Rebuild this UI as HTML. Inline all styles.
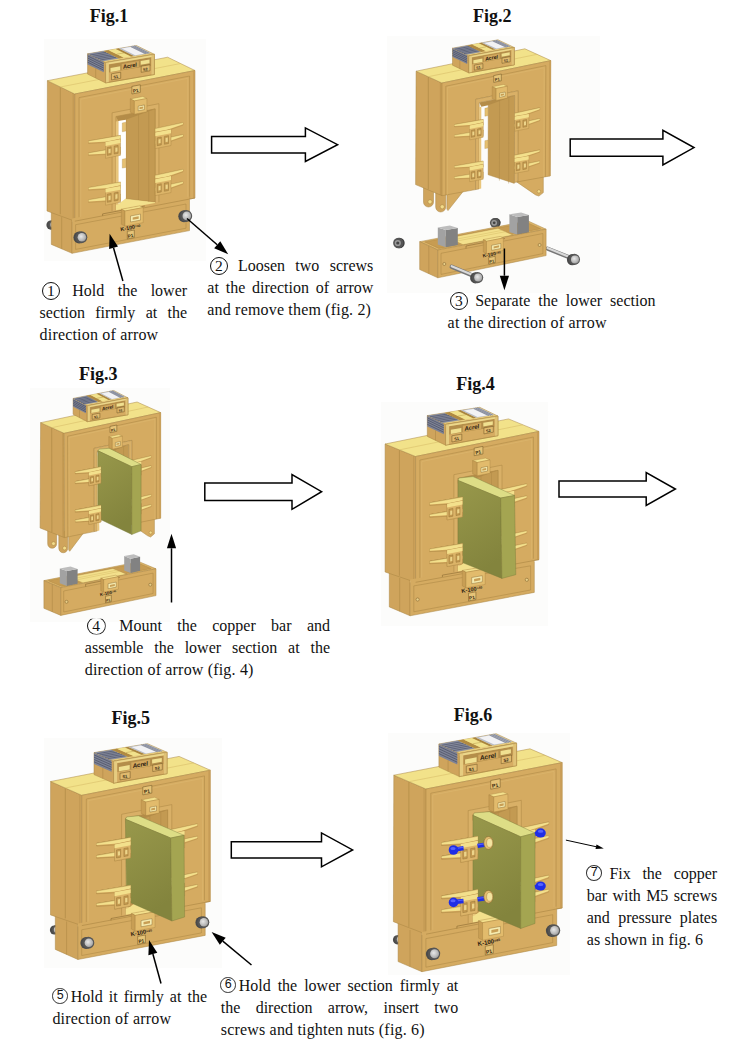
<!DOCTYPE html>
<html><head><meta charset="utf-8"><title>Installation steps</title>
<style>
html,body{margin:0;padding:0;background:#fff;}
body{width:756px;height:1064px;position:relative;overflow:hidden;font-family:"Liberation Serif","DejaVu Serif",serif;color:#111;}
.t{position:absolute;white-space:nowrap;line-height:22px;}
.t[style*="justify"]{white-space:normal;}
.c{display:inline-block;box-sizing:border-box;border:1.2px solid #111;border-radius:50%;text-align:center;text-align-last:center;text-indent:0;white-space:nowrap;overflow:hidden;letter-spacing:0;}
svg{position:absolute;left:0;top:0;}
.ba{fill:#fff;stroke:#000;stroke-width:1.5;stroke-linejoin:miter;}
</style></head><body>
<svg width="756" height="1064" viewBox="0 0 756 1064">
<g fill="#fcfcfb"><rect x="44" y="39" width="162" height="222"/><rect x="387" y="36" width="213" height="257"/><rect x="30" y="388" width="140" height="234"/><rect x="381" y="402" width="167" height="224"/><rect x="44" y="738" width="178" height="230"/><rect x="388" y="733" width="182" height="242"/></g>
<defs><radialGradient id="gs" cx="0.4" cy="0.4" r="0.7"><stop offset="0" stop-color="#e8e8e8"/><stop offset="0.7" stop-color="#b4b4b4"/><stop offset="1" stop-color="#8a8a8a"/></radialGradient><linearGradient id="gb" x1="0" y1="0" x2="0.3" y2="1"><stop offset="0" stop-color="#98984b"/><stop offset="1" stop-color="#83843d"/></linearGradient></defs>
<ellipse cx="50.8" cy="225.1" rx="4.4" ry="4.6" fill="#4a4a4a"/>
<circle cx="53.0" cy="224.8" r="4.6" fill="#555"/>
<circle cx="53.6" cy="224.8" r="3.3" fill="url(#gs)"/>
<polygon points="51.3,202.6 72.1,211.5 72.1,253.3 51.3,244.4" fill="#cfa45c" stroke="#a98442" stroke-width="0.5" stroke-linejoin="round"/>
<polyline points="61.7,217.1 61.7,248.9" fill="none" stroke="#a98442" stroke-width="0.5"/>
<polygon points="47.4,80.7 74.8,94.0 74.8,221.2 47.0,211.0" fill="#cfa45c" stroke="#a98442" stroke-width="0.5" stroke-linejoin="round"/>
<polyline points="60.3,87.0 60.3,214.2" fill="none" stroke="#a98442" stroke-width="0.6"/>
<polyline points="73.2,93.2 73.2,220.4" fill="none" stroke="#a98442" stroke-width="0.4"/>
<polygon points="47.4,80.7 74.8,94.0 195.0,70.5 167.6,57.2" fill="#f2e28a" stroke="#a98442" stroke-width="0.5" stroke-linejoin="round"/>
<polyline points="60.3,87.0 180.5,63.5" fill="none" stroke="#d9be6a" stroke-width="0.6"/>
<polygon points="74.8,94.0 195.0,70.5 195.0,198.0 74.8,221.2" fill="#d5ab61" stroke="#a98442" stroke-width="0.5" stroke-linejoin="round"/>
<polygon points="193.2,70.9 195.0,70.5 195.0,198.0 193.2,198.3" fill="#c79c55"/>
<polyline points="79.0,220.4 79.0,97.6 189.6,76.0 189.6,199.0" fill="none" stroke="#a98442" stroke-width="0.5"/>
<polyline points="80.8,220.0 80.8,99.2 187.8,78.3 187.8,199.4" fill="none" stroke="#dfba72" stroke-width="0.5"/>
<polygon points="112.1,112.8 158.9,103.7 158.9,205.0 155.1,205.7 155.1,108.9 115.9,116.5 115.9,213.3 112.1,214.0" fill="#d9b067" stroke="#a98442" stroke-width="0.5" stroke-linejoin="round"/>
<polygon points="115.9,205.0 125.9,198.6 155.1,201.9 155.1,205.7 115.9,213.3" fill="#f3e08c"/>
<polygon points="125.9,116.5 155.1,108.9 155.1,201.9 125.9,198.6" fill="#c39a52" stroke="#a98442" stroke-width="0.4" stroke-linejoin="round"/>
<polygon points="115.9,116.5 155.1,108.9 125.9,119.7 118.3,121.1" fill="#b48c48"/>
<polygon points="118.3,121.1 125.9,119.7 125.9,198.6 118.3,203.9" fill="#ffffff"/>
<polyline points="138.5,114.7 138.5,200.0" fill="none" stroke="#a98442" stroke-width="0.4"/>
<polyline points="148.7,111.4 148.7,201.8" fill="none" stroke="#a98442" stroke-width="0.4"/>
<polygon points="115.9,121.6 118.3,121.1 118.3,204.5 115.9,205.0" fill="#e9c67c"/>
<polygon points="122.3,122.9 125.9,122.2 125.9,131.1 122.3,131.8" fill="#e6c070" stroke="#a98442" stroke-width="0.3" stroke-linejoin="round"/>
<polygon points="122.3,159.2 125.9,158.5 125.9,167.4 122.3,168.1" fill="#e6c070" stroke="#a98442" stroke-width="0.3" stroke-linejoin="round"/>
<polygon points="88.6,140.9 120.5,135.4 120.5,141.7 88.6,143.5" fill="#d2a65c" stroke="#a98442" stroke-width="0.35" stroke-linejoin="round"/>
<polygon points="88.6,140.9 120.5,135.4 120.5,138.5 108.4,141.4 88.6,142.6" fill="#f3e08c"/>
<polyline points="88.6,140.9 120.5,135.4" fill="none" stroke="#a98442" stroke-width="0.35"/>
<polygon points="88.6,152.9 120.5,147.3 120.5,153.7 88.6,155.4" fill="#d2a65c" stroke="#a98442" stroke-width="0.35" stroke-linejoin="round"/>
<polygon points="88.6,152.9 120.5,147.3 120.5,150.5 108.4,153.4 88.6,154.5" fill="#f3e08c"/>
<polyline points="88.6,152.9 120.5,147.3" fill="none" stroke="#a98442" stroke-width="0.35"/>
<polygon points="105.5,142.1 120.5,139.2 120.5,155.3 105.5,158.3" fill="#dcb468" stroke="#a98442" stroke-width="0.4" stroke-linejoin="round"/>
<polygon points="105.5,142.1 120.5,139.2 120.5,143.0 105.5,145.9" fill="#f3e08c"/>
<polygon points="107.3,147.5 111.2,146.7 111.2,154.6 107.3,155.4" fill="#c49a50" stroke="#8a6a30" stroke-width="0.4" stroke-linejoin="round"/>
<polygon points="108.5,149.2 110.6,148.7 110.6,152.8 108.5,153.2" fill="#ecd48a"/>
<polygon points="114.2,146.1 118.1,145.4 118.1,153.3 114.2,154.0" fill="#c49a50" stroke="#8a6a30" stroke-width="0.4" stroke-linejoin="round"/>
<polygon points="115.4,147.8 117.5,147.4 117.5,151.5 115.4,151.9" fill="#ecd48a"/>
<polygon points="88.6,187.6 120.5,182.1 120.5,188.4 88.6,190.2" fill="#d2a65c" stroke="#a98442" stroke-width="0.35" stroke-linejoin="round"/>
<polygon points="88.6,187.6 120.5,182.1 120.5,185.3 108.4,188.1 88.6,189.3" fill="#f3e08c"/>
<polyline points="88.6,187.6 120.5,182.1" fill="none" stroke="#a98442" stroke-width="0.35"/>
<polygon points="88.6,199.8 120.5,194.3 120.5,200.7 88.6,202.4" fill="#d2a65c" stroke="#a98442" stroke-width="0.35" stroke-linejoin="round"/>
<polygon points="88.6,199.8 120.5,194.3 120.5,197.5 108.4,200.3 88.6,201.5" fill="#f3e08c"/>
<polyline points="88.6,199.8 120.5,194.3" fill="none" stroke="#a98442" stroke-width="0.35"/>
<polygon points="105.5,188.8 120.5,185.9 120.5,202.3 105.5,205.2" fill="#dcb468" stroke="#a98442" stroke-width="0.4" stroke-linejoin="round"/>
<polygon points="105.5,188.8 120.5,185.9 120.5,189.7 105.5,192.6" fill="#f3e08c"/>
<polygon points="107.3,194.2 111.2,193.4 111.2,201.6 107.3,202.3" fill="#c49a50" stroke="#8a6a30" stroke-width="0.4" stroke-linejoin="round"/>
<polygon points="108.5,195.9 110.6,195.5 110.6,199.8 108.5,200.2" fill="#ecd48a"/>
<polygon points="114.2,192.9 118.1,192.1 118.1,200.2 114.2,201.0" fill="#c49a50" stroke="#8a6a30" stroke-width="0.4" stroke-linejoin="round"/>
<polygon points="115.4,194.5 117.5,194.1 117.5,198.5 115.4,198.9" fill="#ecd48a"/>
<polygon points="183.0,122.6 155.3,128.6 155.3,134.9 183.0,125.1" fill="#d2a65c" stroke="#a98442" stroke-width="0.35" stroke-linejoin="round"/>
<polygon points="183.0,122.6 155.3,128.6 155.3,131.8 165.8,130.2 183.0,124.2" fill="#f3e08c"/>
<polyline points="183.0,122.6 155.3,128.6" fill="none" stroke="#a98442" stroke-width="0.35"/>
<polygon points="183.0,134.5 155.3,140.6 155.3,146.9 183.0,137.1" fill="#d2a65c" stroke="#a98442" stroke-width="0.35" stroke-linejoin="round"/>
<polygon points="183.0,134.5 155.3,140.6 155.3,143.7 165.8,142.2 183.0,136.2" fill="#f3e08c"/>
<polyline points="183.0,134.5 155.3,140.6" fill="none" stroke="#a98442" stroke-width="0.35"/>
<polygon points="155.3,132.4 171.0,129.4 171.0,145.5 155.3,148.6" fill="#dcb468" stroke="#a98442" stroke-width="0.4" stroke-linejoin="round"/>
<polygon points="155.3,132.4 171.0,129.4 171.0,133.2 155.3,136.2" fill="#f3e08c"/>
<polygon points="157.2,137.8 161.3,137.0 161.3,144.9 157.2,145.7" fill="#c49a50" stroke="#8a6a30" stroke-width="0.4" stroke-linejoin="round"/>
<polygon points="158.5,139.4 160.6,139.0 160.6,143.1 158.5,143.5" fill="#ecd48a"/>
<polygon points="164.4,136.4 168.5,135.6 168.5,143.5 164.4,144.3" fill="#c49a50" stroke="#8a6a30" stroke-width="0.4" stroke-linejoin="round"/>
<polygon points="165.6,138.0 167.8,137.6 167.8,141.7 165.6,142.1" fill="#ecd48a"/>
<polygon points="183.0,169.3 155.3,175.3 155.3,181.7 183.0,171.9" fill="#d2a65c" stroke="#a98442" stroke-width="0.35" stroke-linejoin="round"/>
<polygon points="183.0,169.3 155.3,175.3 155.3,178.5 165.8,177.0 183.0,171.0" fill="#f3e08c"/>
<polyline points="183.0,169.3 155.3,175.3" fill="none" stroke="#a98442" stroke-width="0.35"/>
<polygon points="183.0,181.6 155.3,187.6 155.3,193.9 183.0,184.1" fill="#d2a65c" stroke="#a98442" stroke-width="0.35" stroke-linejoin="round"/>
<polygon points="183.0,181.6 155.3,187.6 155.3,190.8 165.8,189.2 183.0,183.2" fill="#f3e08c"/>
<polyline points="183.0,181.6 155.3,187.6" fill="none" stroke="#a98442" stroke-width="0.35"/>
<polygon points="155.3,179.2 171.0,176.1 171.0,192.6 155.3,195.6" fill="#dcb468" stroke="#a98442" stroke-width="0.4" stroke-linejoin="round"/>
<polygon points="155.3,179.2 171.0,176.1 171.0,180.0 155.3,183.0" fill="#f3e08c"/>
<polygon points="157.2,184.5 161.3,183.7 161.3,191.9 157.2,192.7" fill="#c49a50" stroke="#8a6a30" stroke-width="0.4" stroke-linejoin="round"/>
<polygon points="158.5,186.2 160.6,185.8 160.6,190.1 158.5,190.5" fill="#ecd48a"/>
<polygon points="164.4,183.1 168.5,182.4 168.5,190.5 164.4,191.3" fill="#c49a50" stroke="#8a6a30" stroke-width="0.4" stroke-linejoin="round"/>
<polygon points="165.6,184.8 167.8,184.4 167.8,188.7 165.6,189.1" fill="#ecd48a"/>
<polygon points="130.3,98.9 142.8,96.5 146.9,98.5 134.4,100.9" fill="#f3e08c" stroke="#a98442" stroke-width="0.4" stroke-linejoin="round"/>
<polygon points="130.3,98.9 134.4,100.9 134.4,114.2 130.3,112.2" fill="#c89e54" stroke="#a98442" stroke-width="0.4" stroke-linejoin="round"/>
<polygon points="134.4,100.9 146.9,98.5 146.9,111.7 134.4,114.2" fill="#e2bb6c" stroke="#a98442" stroke-width="0.4" stroke-linejoin="round"/>
<polygon points="138.2,106.2 144.4,104.9 144.4,109.6 138.2,110.8" fill="#f6ecb0" stroke="#7a5c28" stroke-width="0.4" stroke-linejoin="round"/>
<polygon points="139.4,107.2 143.2,106.5 143.2,108.5 139.4,109.2" fill="#c89e54"/>
<polygon points="131.9,86.4 140.3,84.8 140.3,92.4 131.9,94.0" fill="#e6c478" stroke="#6a5020" stroke-width="0.5" stroke-linejoin="round"/>
<text x="136.1" y="92.3" font-family="Liberation Sans, sans-serif" font-size="4.6" font-weight="bold" font-style="normal" fill="#3a2c10" text-anchor="middle" transform="rotate(-11.1 136.1 92.3)">P1</text>
<polygon points="72.1,218.5 189.5,196.6 189.5,230.6 72.1,253.3" fill="#d5ab61"/>
<polyline points="72.1,221.5 72.1,253.3 189.5,230.6 189.5,199.6" fill="none" stroke="#a98442" stroke-width="0.5"/>
<polyline points="74.8,221.2 195.0,198.0" fill="none" stroke="#a98442" stroke-width="0.6"/>
<polyline points="75.6,224.7 186.0,204.0 186.0,228.2 75.6,249.4 75.6,224.7" fill="none" stroke="#a98442" stroke-width="0.5"/>
<polyline points="102.6,215.8 102.6,213.9 144.9,206.0" fill="none" stroke="#7a5c28" stroke-width="0.5"/>
<polygon points="121.4,209.2 139.6,205.8 143.2,207.6 125.0,211.0" fill="#f3e08c" stroke="#a98442" stroke-width="0.4" stroke-linejoin="round"/>
<polygon points="121.4,209.2 125.0,211.0 125.0,226.1 121.4,224.3" fill="#c89e54" stroke="#a98442" stroke-width="0.4" stroke-linejoin="round"/>
<polygon points="125.0,211.0 143.2,207.6 143.2,222.6 125.0,226.1" fill="#e2bb6c" stroke="#a98442" stroke-width="0.4" stroke-linejoin="round"/>
<polygon points="130.5,216.0 140.5,214.1 140.5,220.1 130.5,222.0" fill="#f6ecb0" stroke="#7a5c28" stroke-width="0.4" stroke-linejoin="round"/>
<polygon points="132.7,217.4 138.7,216.3 138.7,218.7 132.7,219.8" fill="#c89e54"/>
<text x="130.8" y="229.4" font-family="Liberation Sans, sans-serif" font-size="5.4" font-weight="bold" font-style="normal" fill="#2a2010" text-anchor="middle" transform="rotate(-10.6 130.8 229.4)">K-100<tspan font-size="60%" dy="-1">=40</tspan></text>
<polygon points="127.3,231.3 134.3,230.0 134.3,237.5 127.3,238.9" fill="#e6c478" stroke="#6a5020" stroke-width="0.5" stroke-linejoin="round"/>
<text x="130.8" y="237.4" font-family="Liberation Sans, sans-serif" font-size="4.6" font-weight="bold" font-style="normal" fill="#3a2c10" text-anchor="middle" transform="rotate(-10.6 130.8 237.4)">P1</text>
<polygon points="87.6,53.8 105.6,62.6 105.6,82.9 87.6,74.1" fill="#cfa45c" stroke="#a98442" stroke-width="0.5" stroke-linejoin="round"/>
<polygon points="87.6,53.8 103.8,61.7 103.8,72.3 87.6,64.4" fill="#7d8296"/>
<polyline points="87.6,55.9 103.8,63.8" fill="none" stroke="#3f4558" stroke-width="0.6"/>
<polyline points="87.6,58.0 103.8,65.9" fill="none" stroke="#3f4558" stroke-width="0.6"/>
<polyline points="87.6,60.1 103.8,68.1" fill="none" stroke="#3f4558" stroke-width="0.6"/>
<polyline points="87.6,62.2 103.8,70.2" fill="none" stroke="#3f4558" stroke-width="0.6"/>
<polyline points="95.7,68.3 95.7,78.1" fill="none" stroke="#a98442" stroke-width="0.5"/>
<polygon points="105.6,62.6 154.4,54.3 136.4,45.5 87.6,53.8" fill="#e6ca7c" stroke="#a98442" stroke-width="0.5" stroke-linejoin="round"/>
<polygon points="102.7,61.2 118.8,58.5 103.7,51.1 87.6,53.8" fill="#888da0"/>
<polyline points="100.2,60.0 116.3,57.2" fill="none" stroke="#444a5e" stroke-width="0.6"/>
<polyline points="97.7,58.7 113.8,56.0" fill="none" stroke="#444a5e" stroke-width="0.6"/>
<polyline points="95.2,57.5 111.3,54.8" fill="none" stroke="#444a5e" stroke-width="0.6"/>
<polyline points="92.6,56.3 108.7,53.5" fill="none" stroke="#444a5e" stroke-width="0.6"/>
<polyline points="90.1,55.0 106.2,52.3" fill="none" stroke="#444a5e" stroke-width="0.6"/>
<polygon points="118.8,58.5 123.7,57.6 108.6,50.2 103.7,51.1" fill="#b08a42"/>
<polygon points="123.7,57.6 131.0,56.4 115.9,49.0 108.6,50.2" fill="#f1e28c"/>
<polyline points="116.7,54.2 124.0,52.9" fill="none" stroke="#b89a4a" stroke-width="0.5"/>
<polygon points="131.0,56.4 134.0,55.9 118.8,48.5 115.9,49.0" fill="#a8843e"/>
<polygon points="134.0,55.9 150.8,53.0 135.7,45.6 118.8,48.5" fill="#b9bcc6"/>
<polygon points="135.2,55.2 144.0,53.7 130.5,47.1 121.7,48.6" fill="#f2f2f4"/>
<polyline points="145.9,53.8 130.8,46.5" fill="none" stroke="#6a7084" stroke-width="0.6"/>
<polyline points="147.6,53.6 132.5,46.2" fill="none" stroke="#6a7084" stroke-width="0.6"/>
<polyline points="149.3,53.3 134.2,45.9" fill="none" stroke="#6a7084" stroke-width="0.6"/>
<polygon points="105.6,62.6 154.4,54.3 154.4,74.5 105.6,82.9" fill="#d6ac62" stroke="#a98442" stroke-width="0.5" stroke-linejoin="round"/>
<polygon points="109.0,64.5 151.0,57.3 151.0,65.4 109.0,72.6" fill="#b48e4a"/>
<polygon points="105.6,62.6 154.4,54.3 154.4,56.5 105.6,64.8" fill="#ecd88c"/>
<polygon points="105.6,62.6 108.8,62.1 108.8,82.4 105.6,82.9" fill="#e6cc80"/>
<polygon points="151.5,54.8 154.4,54.3 154.4,74.5 151.5,75.0" fill="#e0c276"/>
<polyline points="105.6,62.6 154.4,54.3 154.4,74.5 105.6,82.9 105.6,62.6" fill="none" stroke="#a98442" stroke-width="0.5"/>
<polygon points="110.5,67.9 120.2,66.2 120.2,70.2 110.5,71.9" fill="#f0e090"/>
<polygon points="140.7,61.1 149.5,59.6 149.5,63.2 140.7,64.7" fill="#f0e090"/>
<polygon points="121.7,63.9 138.8,61.0 138.8,67.1 121.7,70.0" fill="#d2a85e"/>
<polygon points="111.5,73.8 120.7,72.2 120.7,78.3 111.5,79.9" fill="#e0ba6e" stroke="#6a5020" stroke-width="0.5" stroke-linejoin="round"/>
<polygon points="141.2,66.2 150.0,64.7 150.0,70.8 141.2,72.3" fill="#e0ba6e" stroke="#6a5020" stroke-width="0.5" stroke-linejoin="round"/>
<text x="130.2" y="67.7" font-family="Liberation Sans, sans-serif" font-size="5.6" font-weight="bold" font-style="italic" fill="#2a2010" text-anchor="middle" transform="rotate(-9.7 130.2 67.7)">Acrel</text>
<text x="116.1" y="78.1" font-family="Liberation Sans, sans-serif" font-size="3.7" font-weight="bold" font-style="normal" fill="#2a2010" text-anchor="middle" transform="rotate(-9.7 116.1 78.1)">S1</text>
<text x="145.6" y="70.6" font-family="Liberation Sans, sans-serif" font-size="3.7" font-weight="bold" font-style="normal" fill="#2a2010" text-anchor="middle" transform="rotate(-9.7 145.6 70.6)">S2</text>
<ellipse cx="79.1" cy="237.6" rx="5.7" ry="6.0" fill="#4a4a4a"/>
<circle cx="81.3" cy="237.3" r="6.0" fill="#555"/>
<circle cx="81.9" cy="237.3" r="4.3" fill="url(#gs)"/>
<ellipse cx="184.0" cy="216.2" rx="5.7" ry="6.0" fill="#4a4a4a"/>
<circle cx="186.2" cy="215.9" r="6.0" fill="#555"/>
<circle cx="186.8" cy="215.9" r="4.3" fill="url(#gs)"/>
<polygon points="389.3,563.6 410.1,572.5 410.1,615.8 389.3,606.9" fill="#cfa45c" stroke="#a98442" stroke-width="0.5" stroke-linejoin="round"/>
<polyline points="399.7,578.0 399.7,611.3" fill="none" stroke="#a98442" stroke-width="0.5"/>
<polygon points="385.1,444.0 415.6,456.5 415.6,582.3 385.1,572.0" fill="#cfa45c" stroke="#a98442" stroke-width="0.5" stroke-linejoin="round"/>
<polyline points="399.4,449.9 399.4,575.7" fill="none" stroke="#a98442" stroke-width="0.6"/>
<polyline points="413.8,455.8 413.8,581.5" fill="none" stroke="#a98442" stroke-width="0.4"/>
<polygon points="385.1,444.0 415.6,456.5 539.0,431.4 508.5,418.9" fill="#f2e28a" stroke="#a98442" stroke-width="0.5" stroke-linejoin="round"/>
<polyline points="399.4,449.9 522.8,424.8" fill="none" stroke="#d9be6a" stroke-width="0.6"/>
<polygon points="415.6,456.5 539.0,431.4 539.0,559.6 415.6,582.3" fill="#d5ab61" stroke="#a98442" stroke-width="0.5" stroke-linejoin="round"/>
<polygon points="537.1,431.8 539.0,431.4 539.0,559.6 537.1,559.9" fill="#c79c55"/>
<polyline points="419.9,581.5 419.9,460.0 533.4,437.0 533.4,560.6" fill="none" stroke="#a98442" stroke-width="0.5"/>
<polyline points="421.8,581.2 421.8,461.5 531.6,439.3 531.6,561.0" fill="none" stroke="#dfba72" stroke-width="0.5"/>
<polygon points="453.9,474.7 502.0,465.1 502.0,566.4 498.0,567.1 498.0,470.3 457.8,478.3 457.8,574.5 453.9,575.3" fill="#d9b067" stroke="#a98442" stroke-width="0.5" stroke-linejoin="round"/>
<polygon points="457.8,566.3 468.0,560.0 498.0,563.3 498.0,567.1 457.8,574.5" fill="#f3e08c"/>
<polygon points="468.0,478.2 498.0,470.3 498.0,563.3 468.0,560.0" fill="#c39a52" stroke="#a98442" stroke-width="0.4" stroke-linejoin="round"/>
<polygon points="457.8,478.3 498.0,470.3 468.0,481.3 460.3,482.9" fill="#b48c48"/>
<polygon points="460.3,482.9 468.0,481.3 468.0,560.0 460.3,565.2" fill="#c39a52"/>
<polyline points="481.0,476.2 481.0,561.4" fill="none" stroke="#a98442" stroke-width="0.4"/>
<polyline points="491.5,472.9 491.5,563.2" fill="none" stroke="#a98442" stroke-width="0.4"/>
<polygon points="457.8,483.4 460.3,482.9 460.3,565.8 457.8,566.3" fill="#e9c67c"/>
<polygon points="429.8,502.8 462.5,497.0 462.5,503.3 429.8,505.3" fill="#d2a65c" stroke="#a98442" stroke-width="0.35" stroke-linejoin="round"/>
<polygon points="429.8,502.8 462.5,497.0 462.5,500.2 450.1,503.1 429.8,504.4" fill="#f3e08c"/>
<polyline points="429.8,502.8 462.5,497.0" fill="none" stroke="#a98442" stroke-width="0.35"/>
<polygon points="429.8,514.6 462.5,508.9 462.5,515.3 429.8,517.2" fill="#d2a65c" stroke="#a98442" stroke-width="0.35" stroke-linejoin="round"/>
<polygon points="429.8,514.6 462.5,508.9 462.5,512.1 450.1,515.0 429.8,516.3" fill="#f3e08c"/>
<polyline points="429.8,514.6 462.5,508.9" fill="none" stroke="#a98442" stroke-width="0.35"/>
<polygon points="447.1,503.8 462.5,500.8 462.5,516.9 447.1,519.9" fill="#dcb468" stroke="#a98442" stroke-width="0.4" stroke-linejoin="round"/>
<polygon points="447.1,503.8 462.5,500.8 462.5,504.6 447.1,507.6" fill="#f3e08c"/>
<polygon points="448.9,509.2 452.9,508.4 452.9,516.2 448.9,517.0" fill="#c49a50" stroke="#8a6a30" stroke-width="0.4" stroke-linejoin="round"/>
<polygon points="450.2,510.8 452.3,510.4 452.3,514.4 450.2,514.9" fill="#ecd48a"/>
<polygon points="456.0,507.8 460.0,507.0 460.0,514.8 456.0,515.6" fill="#c49a50" stroke="#8a6a30" stroke-width="0.4" stroke-linejoin="round"/>
<polygon points="457.2,509.4 459.4,509.0 459.4,513.1 457.2,513.5" fill="#ecd48a"/>
<polygon points="429.8,549.1 462.5,543.5 462.5,549.9 429.8,551.6" fill="#d2a65c" stroke="#a98442" stroke-width="0.35" stroke-linejoin="round"/>
<polygon points="429.8,549.1 462.5,543.5 462.5,546.7 450.1,549.5 429.8,550.7" fill="#f3e08c"/>
<polyline points="429.8,549.1 462.5,543.5" fill="none" stroke="#a98442" stroke-width="0.35"/>
<polygon points="429.8,561.2 462.5,555.7 462.5,562.0 429.8,563.7" fill="#d2a65c" stroke="#a98442" stroke-width="0.35" stroke-linejoin="round"/>
<polygon points="429.8,561.2 462.5,555.7 462.5,558.8 450.1,561.7 429.8,562.8" fill="#f3e08c"/>
<polyline points="429.8,561.2 462.5,555.7" fill="none" stroke="#a98442" stroke-width="0.35"/>
<polygon points="447.1,550.2 462.5,547.3 462.5,563.7 447.1,566.5" fill="#dcb468" stroke="#a98442" stroke-width="0.4" stroke-linejoin="round"/>
<polygon points="447.1,550.2 462.5,547.3 462.5,551.1 447.1,554.0" fill="#f3e08c"/>
<polygon points="448.9,555.6 452.9,554.8 452.9,562.9 448.9,563.7" fill="#c49a50" stroke="#8a6a30" stroke-width="0.4" stroke-linejoin="round"/>
<polygon points="450.2,557.2 452.3,556.8 452.3,561.1 450.2,561.5" fill="#ecd48a"/>
<polygon points="456.0,554.2 460.0,553.5 460.0,561.6 456.0,562.3" fill="#c49a50" stroke="#8a6a30" stroke-width="0.4" stroke-linejoin="round"/>
<polygon points="457.2,555.9 459.4,555.5 459.4,559.8 457.2,560.2" fill="#ecd48a"/>
<polygon points="526.7,483.8 498.3,490.0 498.3,496.4 526.7,486.4" fill="#d2a65c" stroke="#a98442" stroke-width="0.35" stroke-linejoin="round"/>
<polygon points="526.7,483.8 498.3,490.0 498.3,493.2 509.1,491.6 526.7,485.5" fill="#f3e08c"/>
<polyline points="526.7,483.8 498.3,490.0" fill="none" stroke="#a98442" stroke-width="0.35"/>
<polygon points="526.7,495.8 498.3,502.0 498.3,508.4 526.7,498.4" fill="#d2a65c" stroke="#a98442" stroke-width="0.35" stroke-linejoin="round"/>
<polygon points="526.7,495.8 498.3,502.0 498.3,505.2 509.1,503.6 526.7,497.5" fill="#f3e08c"/>
<polyline points="526.7,495.8 498.3,502.0" fill="none" stroke="#a98442" stroke-width="0.35"/>
<polygon points="498.3,493.8 514.3,490.7 514.3,506.9 498.3,510.0" fill="#dcb468" stroke="#a98442" stroke-width="0.4" stroke-linejoin="round"/>
<polygon points="498.3,493.8 514.3,490.7 514.3,494.5 498.3,497.7" fill="#f3e08c"/>
<polygon points="500.2,499.2 504.4,498.4 504.4,506.3 500.2,507.1" fill="#c49a50" stroke="#8a6a30" stroke-width="0.4" stroke-linejoin="round"/>
<polygon points="501.5,500.9 503.7,500.4 503.7,504.5 501.5,504.9" fill="#ecd48a"/>
<polygon points="507.6,497.8 511.8,496.9 511.8,504.9 507.6,505.7" fill="#c49a50" stroke="#8a6a30" stroke-width="0.4" stroke-linejoin="round"/>
<polygon points="508.9,499.4 511.1,499.0 511.1,503.1 508.9,503.5" fill="#ecd48a"/>
<polygon points="526.7,530.8 498.3,536.8 498.3,543.1 526.7,533.3" fill="#d2a65c" stroke="#a98442" stroke-width="0.35" stroke-linejoin="round"/>
<polygon points="526.7,530.8 498.3,536.8 498.3,540.0 509.1,538.4 526.7,532.4" fill="#f3e08c"/>
<polyline points="526.7,530.8 498.3,536.8" fill="none" stroke="#a98442" stroke-width="0.35"/>
<polygon points="526.7,543.1 498.3,549.0 498.3,555.4 526.7,545.6" fill="#d2a65c" stroke="#a98442" stroke-width="0.35" stroke-linejoin="round"/>
<polygon points="526.7,543.1 498.3,549.0 498.3,552.2 509.1,550.7 526.7,544.7" fill="#f3e08c"/>
<polyline points="526.7,543.1 498.3,549.0" fill="none" stroke="#a98442" stroke-width="0.35"/>
<polygon points="498.3,540.6 514.3,537.6 514.3,554.1 498.3,557.0" fill="#dcb468" stroke="#a98442" stroke-width="0.4" stroke-linejoin="round"/>
<polygon points="498.3,540.6 514.3,537.6 514.3,541.4 498.3,544.4" fill="#f3e08c"/>
<polygon points="500.2,546.0 504.4,545.2 504.4,553.3 500.2,554.1" fill="#c49a50" stroke="#8a6a30" stroke-width="0.4" stroke-linejoin="round"/>
<polygon points="501.5,547.6 503.7,547.2 503.7,551.6 501.5,552.0" fill="#ecd48a"/>
<polygon points="507.6,544.6 511.8,543.8 511.8,552.0 507.6,552.7" fill="#c49a50" stroke="#8a6a30" stroke-width="0.4" stroke-linejoin="round"/>
<polygon points="508.9,546.3 511.1,545.8 511.1,550.2 508.9,550.6" fill="#ecd48a"/>
<polygon points="472.6,460.6 485.4,458.1 490.0,459.9 477.2,462.5" fill="#f3e08c" stroke="#a98442" stroke-width="0.4" stroke-linejoin="round"/>
<polygon points="472.6,460.6 477.2,462.5 477.2,475.7 472.6,473.8" fill="#c89e54" stroke="#a98442" stroke-width="0.4" stroke-linejoin="round"/>
<polygon points="477.2,462.5 490.0,459.9 490.0,473.2 477.2,475.7" fill="#e2bb6c" stroke="#a98442" stroke-width="0.4" stroke-linejoin="round"/>
<polygon points="481.0,467.7 487.5,466.4 487.5,471.0 481.0,472.3" fill="#f6ecb0" stroke="#7a5c28" stroke-width="0.4" stroke-linejoin="round"/>
<polygon points="482.3,468.7 486.2,468.0 486.2,470.0 482.3,470.7" fill="#c89e54"/>
<polygon points="474.2,448.1 482.9,446.4 482.9,454.0 474.2,455.7" fill="#e6c478" stroke="#6a5020" stroke-width="0.5" stroke-linejoin="round"/>
<text x="478.5" y="453.9" font-family="Liberation Sans, sans-serif" font-size="4.7" font-weight="bold" font-style="normal" fill="#3a2c10" text-anchor="middle" transform="rotate(-11.5 478.5 453.9)">P1</text>
<polygon points="410.1,579.5 534.3,558.4 534.3,592.4 410.1,615.8" fill="#d5ab61"/>
<polyline points="410.1,582.5 410.1,615.8 534.3,592.4 534.3,561.4" fill="none" stroke="#a98442" stroke-width="0.5"/>
<polyline points="415.6,582.3 539.0,559.6" fill="none" stroke="#a98442" stroke-width="0.6"/>
<polyline points="413.8,585.9 530.6,565.8 530.6,590.0 413.8,611.8 413.8,585.9" fill="none" stroke="#a98442" stroke-width="0.5"/>
<polyline points="442.4,577.0 442.4,575.1 487.1,567.5" fill="none" stroke="#7a5c28" stroke-width="0.5"/>
<polygon points="462.3,570.4 481.5,567.2 485.2,569.0 466.0,572.3" fill="#f3e08c" stroke="#a98442" stroke-width="0.4" stroke-linejoin="round"/>
<polygon points="462.3,570.4 466.0,572.3 466.0,587.8 462.3,585.9" fill="#c89e54" stroke="#a98442" stroke-width="0.4" stroke-linejoin="round"/>
<polygon points="466.0,572.3 485.2,569.0 485.2,584.4 466.0,587.8" fill="#e2bb6c" stroke="#a98442" stroke-width="0.4" stroke-linejoin="round"/>
<polygon points="471.7,577.5 482.3,575.7 482.3,581.8 471.7,583.7" fill="#f6ecb0" stroke="#7a5c28" stroke-width="0.4" stroke-linejoin="round"/>
<polygon points="474.1,578.9 480.4,577.8 480.4,580.3 474.1,581.4" fill="#c89e54"/>
<text x="472.2" y="591.2" font-family="Liberation Sans, sans-serif" font-size="5.6" font-weight="bold" font-style="normal" fill="#2a2010" text-anchor="middle" transform="rotate(-9.6 472.2 591.2)">K-100<tspan font-size="60%" dy="-1">=40</tspan></text>
<polygon points="468.5,593.2 475.9,591.8 475.9,599.5 468.5,600.9" fill="#e6c478" stroke="#6a5020" stroke-width="0.5" stroke-linejoin="round"/>
<text x="472.2" y="599.4" font-family="Liberation Sans, sans-serif" font-size="4.7" font-weight="bold" font-style="normal" fill="#3a2c10" text-anchor="middle" transform="rotate(-9.6 472.2 599.4)">P1</text>
<circle cx="417.6" cy="599.5" r="1.6" fill="#e9cf88" stroke="#7a5c28" stroke-width="0.5"/>
<circle cx="526.8" cy="579.8" r="1.6" fill="#e9cf88" stroke="#7a5c28" stroke-width="0.5"/>
<polygon points="458.0,480.4 459.0,478.0 473.0,476.6 514.5,495.5 500.7,498.0" fill="#dddd86" stroke="#77783a" stroke-width="0.4" stroke-linejoin="round"/>
<polygon points="458.0,480.4 500.7,498.0 501.9,578.4 458.0,560.8" fill="url(#gb)" stroke="#77783a" stroke-width="0.4" stroke-linejoin="round"/>
<polygon points="500.7,498.0 514.5,495.5 515.8,574.7 501.9,578.4" fill="#a4a551" stroke="#77783a" stroke-width="0.4" stroke-linejoin="round"/>
<polygon points="429.8,502.8 462.5,497.0 462.5,503.3 429.8,505.3" fill="#d2a65c" stroke="#a98442" stroke-width="0.35" stroke-linejoin="round"/>
<polygon points="429.8,502.8 462.5,497.0 462.5,500.2 450.1,503.1 429.8,504.4" fill="#f3e08c"/>
<polyline points="429.8,502.8 462.5,497.0" fill="none" stroke="#a98442" stroke-width="0.35"/>
<polygon points="429.8,514.6 462.5,508.9 462.5,515.3 429.8,517.2" fill="#d2a65c" stroke="#a98442" stroke-width="0.35" stroke-linejoin="round"/>
<polygon points="429.8,514.6 462.5,508.9 462.5,512.1 450.1,515.0 429.8,516.3" fill="#f3e08c"/>
<polyline points="429.8,514.6 462.5,508.9" fill="none" stroke="#a98442" stroke-width="0.35"/>
<polygon points="447.1,503.8 462.5,500.8 462.5,516.9 447.1,519.9" fill="#dcb468" stroke="#a98442" stroke-width="0.4" stroke-linejoin="round"/>
<polygon points="447.1,503.8 462.5,500.8 462.5,504.6 447.1,507.6" fill="#f3e08c"/>
<polygon points="448.9,509.2 452.9,508.4 452.9,516.2 448.9,517.0" fill="#c49a50" stroke="#8a6a30" stroke-width="0.4" stroke-linejoin="round"/>
<polygon points="450.2,510.8 452.3,510.4 452.3,514.4 450.2,514.9" fill="#ecd48a"/>
<polygon points="456.0,507.8 460.0,507.0 460.0,514.8 456.0,515.6" fill="#c49a50" stroke="#8a6a30" stroke-width="0.4" stroke-linejoin="round"/>
<polygon points="457.2,509.4 459.4,509.0 459.4,513.1 457.2,513.5" fill="#ecd48a"/>
<polygon points="429.8,549.1 462.5,543.5 462.5,549.9 429.8,551.6" fill="#d2a65c" stroke="#a98442" stroke-width="0.35" stroke-linejoin="round"/>
<polygon points="429.8,549.1 462.5,543.5 462.5,546.7 450.1,549.5 429.8,550.7" fill="#f3e08c"/>
<polyline points="429.8,549.1 462.5,543.5" fill="none" stroke="#a98442" stroke-width="0.35"/>
<polygon points="429.8,561.2 462.5,555.7 462.5,562.0 429.8,563.7" fill="#d2a65c" stroke="#a98442" stroke-width="0.35" stroke-linejoin="round"/>
<polygon points="429.8,561.2 462.5,555.7 462.5,558.8 450.1,561.7 429.8,562.8" fill="#f3e08c"/>
<polyline points="429.8,561.2 462.5,555.7" fill="none" stroke="#a98442" stroke-width="0.35"/>
<polygon points="447.1,550.2 462.5,547.3 462.5,563.7 447.1,566.5" fill="#dcb468" stroke="#a98442" stroke-width="0.4" stroke-linejoin="round"/>
<polygon points="447.1,550.2 462.5,547.3 462.5,551.1 447.1,554.0" fill="#f3e08c"/>
<polygon points="448.9,555.6 452.9,554.8 452.9,562.9 448.9,563.7" fill="#c49a50" stroke="#8a6a30" stroke-width="0.4" stroke-linejoin="round"/>
<polygon points="450.2,557.2 452.3,556.8 452.3,561.1 450.2,561.5" fill="#ecd48a"/>
<polygon points="456.0,554.2 460.0,553.5 460.0,561.6 456.0,562.3" fill="#c49a50" stroke="#8a6a30" stroke-width="0.4" stroke-linejoin="round"/>
<polygon points="457.2,555.9 459.4,555.5 459.4,559.8 457.2,560.2" fill="#ecd48a"/>
<polygon points="427.3,415.6 445.6,424.4 445.6,445.2 427.3,436.4" fill="#cfa45c" stroke="#a98442" stroke-width="0.5" stroke-linejoin="round"/>
<polygon points="427.3,415.6 443.8,423.5 443.8,434.3 427.3,426.4" fill="#7d8296"/>
<polyline points="427.3,417.8 443.8,425.7" fill="none" stroke="#3f4558" stroke-width="0.6"/>
<polyline points="427.3,419.9 443.8,427.8" fill="none" stroke="#3f4558" stroke-width="0.6"/>
<polyline points="427.3,422.1 443.8,430.0" fill="none" stroke="#3f4558" stroke-width="0.6"/>
<polyline points="427.3,424.3 443.8,432.2" fill="none" stroke="#3f4558" stroke-width="0.6"/>
<polyline points="435.5,430.4 435.5,440.4" fill="none" stroke="#a98442" stroke-width="0.5"/>
<polygon points="445.6,424.4 498.0,416.1 479.7,407.3 427.3,415.6" fill="#e6ca7c" stroke="#a98442" stroke-width="0.5" stroke-linejoin="round"/>
<polygon points="442.7,423.0 460.0,420.3 444.6,412.9 427.3,415.6" fill="#888da0"/>
<polyline points="440.1,421.8 457.4,419.0" fill="none" stroke="#444a5e" stroke-width="0.6"/>
<polyline points="437.5,420.5 454.8,417.8" fill="none" stroke="#444a5e" stroke-width="0.6"/>
<polyline points="435.0,419.3 452.3,416.6" fill="none" stroke="#444a5e" stroke-width="0.6"/>
<polyline points="432.4,418.1 449.7,415.3" fill="none" stroke="#444a5e" stroke-width="0.6"/>
<polyline points="429.9,416.8 447.2,414.1" fill="none" stroke="#444a5e" stroke-width="0.6"/>
<polygon points="460.0,420.3 465.2,419.4 449.8,412.0 444.6,412.9" fill="#b08a42"/>
<polygon points="465.2,419.4 473.1,418.2 457.7,410.8 449.8,412.0" fill="#f1e28c"/>
<polyline points="458.1,416.0 465.9,414.7" fill="none" stroke="#b89a4a" stroke-width="0.5"/>
<polygon points="473.1,418.2 476.2,417.7 460.8,410.3 457.7,410.8" fill="#a8843e"/>
<polygon points="476.2,417.7 494.3,414.8 478.9,407.4 460.8,410.3" fill="#b9bcc6"/>
<polygon points="477.6,417.0 487.0,415.5 473.3,408.9 463.8,410.4" fill="#f2f2f4"/>
<polyline points="489.0,415.6 473.7,408.3" fill="none" stroke="#6a7084" stroke-width="0.6"/>
<polyline points="490.9,415.4 475.5,408.0" fill="none" stroke="#6a7084" stroke-width="0.6"/>
<polyline points="492.7,415.1 477.3,407.7" fill="none" stroke="#6a7084" stroke-width="0.6"/>
<polygon points="445.6,424.4 498.0,416.1 498.0,435.7 445.6,445.2" fill="#d6ac62" stroke="#a98442" stroke-width="0.5" stroke-linejoin="round"/>
<polygon points="449.3,426.3 494.3,419.0 494.3,426.9 449.3,434.6" fill="#b48e4a"/>
<polygon points="445.6,424.4 498.0,416.1 498.0,418.3 445.6,426.7" fill="#ecd88c"/>
<polygon points="445.6,424.4 449.0,423.9 449.0,444.6 445.6,445.2" fill="#e6cc80"/>
<polygon points="494.9,416.6 498.0,416.1 498.0,435.7 494.9,436.3" fill="#e0c276"/>
<polyline points="445.6,424.4 498.0,416.1 498.0,435.7 445.6,445.2 445.6,424.4" fill="none" stroke="#a98442" stroke-width="0.5"/>
<polygon points="450.8,429.8 461.3,428.0 461.3,432.1 450.8,433.9" fill="#f0e090"/>
<polygon points="483.3,422.8 492.8,421.3 492.8,424.8 483.3,426.4" fill="#f0e090"/>
<polygon points="462.9,425.7 481.2,422.8 481.2,428.7 462.9,431.9" fill="#d2a85e"/>
<polygon points="451.9,435.8 461.8,434.1 461.8,440.2 451.9,442.0" fill="#e0ba6e" stroke="#6a5020" stroke-width="0.5" stroke-linejoin="round"/>
<polygon points="483.9,427.9 493.3,426.3 493.3,432.2 483.9,433.9" fill="#e0ba6e" stroke="#6a5020" stroke-width="0.5" stroke-linejoin="round"/>
<text x="472.1" y="429.5" font-family="Liberation Sans, sans-serif" font-size="6.0" font-weight="bold" font-style="italic" fill="#2a2010" text-anchor="middle" transform="rotate(-9.0 472.1 429.5)">Acrel</text>
<text x="456.9" y="440.1" font-family="Liberation Sans, sans-serif" font-size="3.9" font-weight="bold" font-style="normal" fill="#2a2010" text-anchor="middle" transform="rotate(-9.0 456.9 440.1)">S1</text>
<text x="488.6" y="432.1" font-family="Liberation Sans, sans-serif" font-size="3.9" font-weight="bold" font-style="normal" fill="#2a2010" text-anchor="middle" transform="rotate(-9.0 488.6 432.1)">S2</text>
<ellipse cx="54.3" cy="930.0" rx="4.4" ry="4.6" fill="#4a4a4a"/>
<circle cx="56.5" cy="929.7" r="4.6" fill="#555"/>
<circle cx="57.1" cy="929.7" r="3.3" fill="url(#gs)"/>
<polygon points="55.3,906.4 77.9,916.5 77.9,959.5 55.3,949.4" fill="#cfa45c" stroke="#a98442" stroke-width="0.5" stroke-linejoin="round"/>
<polyline points="66.6,921.5 66.6,954.5" fill="none" stroke="#a98442" stroke-width="0.5"/>
<polygon points="50.6,781.5 81.8,795.3 81.8,925.6 50.5,914.9" fill="#cfa45c" stroke="#a98442" stroke-width="0.5" stroke-linejoin="round"/>
<polyline points="65.3,788.0 65.3,918.3" fill="none" stroke="#a98442" stroke-width="0.6"/>
<polyline points="79.9,794.5 79.9,924.8" fill="none" stroke="#a98442" stroke-width="0.4"/>
<polygon points="50.6,781.5 81.8,795.3 210.3,770.2 179.1,756.4" fill="#f2e28a" stroke="#a98442" stroke-width="0.5" stroke-linejoin="round"/>
<polyline points="65.3,788.0 193.8,762.9" fill="none" stroke="#d9be6a" stroke-width="0.6"/>
<polygon points="81.8,795.3 210.3,770.2 210.3,901.4 81.8,925.6" fill="#d5ab61" stroke="#a98442" stroke-width="0.5" stroke-linejoin="round"/>
<polygon points="208.4,770.6 210.3,770.2 210.3,901.4 208.4,901.8" fill="#c79c55"/>
<polyline points="86.3,924.8 86.3,799.0 204.5,775.9 204.5,902.5" fill="none" stroke="#a98442" stroke-width="0.5"/>
<polyline points="88.2,924.4 88.2,800.6 202.6,778.3 202.6,902.9" fill="none" stroke="#dfba72" stroke-width="0.5"/>
<polygon points="121.6,814.3 171.8,804.6 171.8,908.7 167.6,909.4 167.6,809.9 125.7,818.1 125.7,917.3 121.6,918.1" fill="#d9b067" stroke="#a98442" stroke-width="0.5" stroke-linejoin="round"/>
<polygon points="125.7,908.8 136.4,902.2 167.6,905.5 167.6,909.4 125.7,917.3" fill="#f3e08c"/>
<polygon points="136.4,818.0 167.6,809.9 167.6,905.5 136.4,902.2" fill="#c39a52" stroke="#a98442" stroke-width="0.4" stroke-linejoin="round"/>
<polygon points="125.7,818.1 167.6,809.9 136.4,821.2 128.3,822.8" fill="#b48c48"/>
<polygon points="128.3,822.8 136.4,821.2 136.4,902.2 128.3,907.7" fill="#c39a52"/>
<polyline points="149.9,816.0 149.9,903.6" fill="none" stroke="#a98442" stroke-width="0.4"/>
<polyline points="160.8,812.6 160.8,905.5" fill="none" stroke="#a98442" stroke-width="0.4"/>
<polygon points="125.7,823.3 128.3,822.8 128.3,908.3 125.7,908.8" fill="#e9c67c"/>
<polygon points="96.6,843.3 130.6,837.4 130.6,843.9 96.6,845.9" fill="#d2a65c" stroke="#a98442" stroke-width="0.35" stroke-linejoin="round"/>
<polygon points="96.6,843.3 130.6,837.4 130.6,840.6 117.7,843.6 96.6,845.0" fill="#f3e08c"/>
<polyline points="96.6,843.3 130.6,837.4" fill="none" stroke="#a98442" stroke-width="0.35"/>
<polygon points="96.6,855.5 130.6,849.6 130.6,856.2 96.6,858.1" fill="#d2a65c" stroke="#a98442" stroke-width="0.35" stroke-linejoin="round"/>
<polygon points="96.6,855.5 130.6,849.6 130.6,852.9 117.7,855.9 96.6,857.2" fill="#f3e08c"/>
<polyline points="96.6,855.5 130.6,849.6" fill="none" stroke="#a98442" stroke-width="0.35"/>
<polygon points="114.6,844.4 130.6,841.3 130.6,857.9 114.6,861.0" fill="#dcb468" stroke="#a98442" stroke-width="0.4" stroke-linejoin="round"/>
<polygon points="114.6,844.4 130.6,841.3 130.6,845.2 114.6,848.3" fill="#f3e08c"/>
<polygon points="116.5,849.9 120.7,849.1 120.7,857.2 116.5,858.0" fill="#c49a50" stroke="#8a6a30" stroke-width="0.4" stroke-linejoin="round"/>
<polygon points="117.8,851.6 120.0,851.2 120.0,855.3 117.8,855.8" fill="#ecd48a"/>
<polygon points="123.9,848.5 128.1,847.7 128.1,855.8 123.9,856.6" fill="#c49a50" stroke="#8a6a30" stroke-width="0.4" stroke-linejoin="round"/>
<polygon points="125.2,850.2 127.4,849.7 127.4,853.9 125.2,854.4" fill="#ecd48a"/>
<polygon points="96.6,891.1 130.6,885.3 130.6,891.8 96.6,893.7" fill="#d2a65c" stroke="#a98442" stroke-width="0.35" stroke-linejoin="round"/>
<polygon points="96.6,891.1 130.6,885.3 130.6,888.6 117.7,891.6 96.6,892.8" fill="#f3e08c"/>
<polyline points="96.6,891.1 130.6,885.3" fill="none" stroke="#a98442" stroke-width="0.35"/>
<polygon points="96.6,903.6 130.6,897.9 130.6,904.4 96.6,906.3" fill="#d2a65c" stroke="#a98442" stroke-width="0.35" stroke-linejoin="round"/>
<polygon points="96.6,903.6 130.6,897.9 130.6,901.1 117.7,904.1 96.6,905.3" fill="#f3e08c"/>
<polyline points="96.6,903.6 130.6,897.9" fill="none" stroke="#a98442" stroke-width="0.35"/>
<polygon points="114.6,892.3 130.6,889.2 130.6,906.1 114.6,909.1" fill="#dcb468" stroke="#a98442" stroke-width="0.4" stroke-linejoin="round"/>
<polygon points="114.6,892.3 130.6,889.2 130.6,893.1 114.6,896.2" fill="#f3e08c"/>
<polygon points="116.5,897.8 120.7,897.0 120.7,905.4 116.5,906.1" fill="#c49a50" stroke="#8a6a30" stroke-width="0.4" stroke-linejoin="round"/>
<polygon points="117.8,899.5 120.0,899.1 120.0,903.5 117.8,903.9" fill="#ecd48a"/>
<polygon points="123.9,896.4 128.1,895.6 128.1,904.0 123.9,904.7" fill="#c49a50" stroke="#8a6a30" stroke-width="0.4" stroke-linejoin="round"/>
<polygon points="125.2,898.1 127.4,897.7 127.4,902.1 125.2,902.5" fill="#ecd48a"/>
<polygon points="197.4,823.8 167.9,830.2 167.9,836.7 197.4,826.5" fill="#d2a65c" stroke="#a98442" stroke-width="0.35" stroke-linejoin="round"/>
<polygon points="197.4,823.8 167.9,830.2 167.9,833.5 179.1,831.8 197.4,825.5" fill="#f3e08c"/>
<polyline points="197.4,823.8 167.9,830.2" fill="none" stroke="#a98442" stroke-width="0.35"/>
<polygon points="197.4,836.2 167.9,842.5 167.9,849.0 197.4,838.8" fill="#d2a65c" stroke="#a98442" stroke-width="0.35" stroke-linejoin="round"/>
<polygon points="197.4,836.2 167.9,842.5 167.9,845.8 179.1,844.1 197.4,837.9" fill="#f3e08c"/>
<polyline points="197.4,836.2 167.9,842.5" fill="none" stroke="#a98442" stroke-width="0.35"/>
<polygon points="167.9,834.1 184.6,830.9 184.6,847.5 167.9,850.7" fill="#dcb468" stroke="#a98442" stroke-width="0.4" stroke-linejoin="round"/>
<polygon points="167.9,834.1 184.6,830.9 184.6,834.8 167.9,838.0" fill="#f3e08c"/>
<polygon points="169.9,839.6 174.2,838.8 174.2,846.9 169.9,847.7" fill="#c49a50" stroke="#8a6a30" stroke-width="0.4" stroke-linejoin="round"/>
<polygon points="171.2,841.3 173.6,840.9 173.6,845.1 171.2,845.5" fill="#ecd48a"/>
<polygon points="177.6,838.1 181.9,837.3 181.9,845.4 177.6,846.3" fill="#c49a50" stroke="#8a6a30" stroke-width="0.4" stroke-linejoin="round"/>
<polygon points="178.9,839.9 181.3,839.4 181.3,843.6 178.9,844.0" fill="#ecd48a"/>
<polygon points="197.4,872.0 167.9,878.2 167.9,884.8 197.4,874.6" fill="#d2a65c" stroke="#a98442" stroke-width="0.35" stroke-linejoin="round"/>
<polygon points="197.4,872.0 167.9,878.2 167.9,881.5 179.1,879.9 197.4,873.7" fill="#f3e08c"/>
<polyline points="197.4,872.0 167.9,878.2" fill="none" stroke="#a98442" stroke-width="0.35"/>
<polygon points="197.4,884.5 167.9,890.8 167.9,897.3 197.4,887.2" fill="#d2a65c" stroke="#a98442" stroke-width="0.35" stroke-linejoin="round"/>
<polygon points="197.4,884.5 167.9,890.8 167.9,894.1 179.1,892.5 197.4,886.3" fill="#f3e08c"/>
<polyline points="197.4,884.5 167.9,890.8" fill="none" stroke="#a98442" stroke-width="0.35"/>
<polygon points="167.9,882.2 184.6,879.0 184.6,895.9 167.9,899.0" fill="#dcb468" stroke="#a98442" stroke-width="0.4" stroke-linejoin="round"/>
<polygon points="167.9,882.2 184.6,879.0 184.6,882.9 167.9,886.1" fill="#f3e08c"/>
<polygon points="169.9,887.7 174.2,886.8 174.2,895.2 169.9,896.0" fill="#c49a50" stroke="#8a6a30" stroke-width="0.4" stroke-linejoin="round"/>
<polygon points="171.2,889.4 173.6,888.9 173.6,893.4 171.2,893.8" fill="#ecd48a"/>
<polygon points="177.6,886.2 181.9,885.4 181.9,893.8 177.6,894.6" fill="#c49a50" stroke="#8a6a30" stroke-width="0.4" stroke-linejoin="round"/>
<polygon points="178.9,887.9 181.3,887.5 181.3,891.9 178.9,892.4" fill="#ecd48a"/>
<polygon points="141.2,799.9 154.5,797.3 159.2,799.4 145.8,802.0" fill="#f3e08c" stroke="#a98442" stroke-width="0.4" stroke-linejoin="round"/>
<polygon points="141.2,799.9 145.8,802.0 145.8,815.6 141.2,813.5" fill="#c89e54" stroke="#a98442" stroke-width="0.4" stroke-linejoin="round"/>
<polygon points="145.8,802.0 159.2,799.4 159.2,813.0 145.8,815.6" fill="#e2bb6c" stroke="#a98442" stroke-width="0.4" stroke-linejoin="round"/>
<polygon points="149.9,807.3 156.5,806.0 156.5,810.8 149.9,812.1" fill="#f6ecb0" stroke="#7a5c28" stroke-width="0.4" stroke-linejoin="round"/>
<polygon points="151.2,808.4 155.2,807.6 155.2,809.7 151.2,810.5" fill="#c89e54"/>
<polygon points="142.8,787.0 151.8,785.3 151.8,793.1 142.8,794.9" fill="#e6c478" stroke="#6a5020" stroke-width="0.5" stroke-linejoin="round"/>
<text x="147.3" y="793.0" font-family="Liberation Sans, sans-serif" font-size="4.9" font-weight="bold" font-style="normal" fill="#3a2c10" text-anchor="middle" transform="rotate(-11.1 147.3 793.0)">P1</text>
<polygon points="77.9,923.5 205.2,900.2 205.2,935.4 77.9,959.5" fill="#d5ab61"/>
<polyline points="77.9,926.5 77.9,959.5 205.2,935.4 205.2,903.2" fill="none" stroke="#a98442" stroke-width="0.5"/>
<polyline points="81.8,925.6 210.3,901.4" fill="none" stroke="#a98442" stroke-width="0.6"/>
<polyline points="81.7,929.8 201.4,907.8 201.4,932.9 81.7,955.5 81.7,929.8" fill="none" stroke="#a98442" stroke-width="0.5"/>
<polyline points="111.0,920.4 111.0,918.5 156.8,910.1" fill="none" stroke="#7a5c28" stroke-width="0.5"/>
<polygon points="131.4,913.4 151.1,909.8 155.0,911.8 135.2,915.4" fill="#f3e08c" stroke="#a98442" stroke-width="0.4" stroke-linejoin="round"/>
<polygon points="131.4,913.4 135.2,915.4 135.2,931.1 131.4,929.1" fill="#c89e54" stroke="#a98442" stroke-width="0.4" stroke-linejoin="round"/>
<polygon points="135.2,915.4 155.0,911.8 155.0,927.4 135.2,931.1" fill="#e2bb6c" stroke="#a98442" stroke-width="0.4" stroke-linejoin="round"/>
<polygon points="141.1,920.6 152.0,918.6 152.0,924.8 141.1,926.8" fill="#f6ecb0" stroke="#7a5c28" stroke-width="0.4" stroke-linejoin="round"/>
<polygon points="143.5,922.0 150.0,920.8 150.0,923.3 143.5,924.5" fill="#c89e54"/>
<text x="141.6" y="934.4" font-family="Liberation Sans, sans-serif" font-size="5.8" font-weight="bold" font-style="normal" fill="#2a2010" text-anchor="middle" transform="rotate(-10.4 141.6 934.4)">K-100<tspan font-size="60%" dy="-1">=40</tspan></text>
<polygon points="137.7,936.4 145.4,935.0 145.4,942.8 137.7,944.3" fill="#e6c478" stroke="#6a5020" stroke-width="0.5" stroke-linejoin="round"/>
<text x="141.6" y="942.7" font-family="Liberation Sans, sans-serif" font-size="4.9" font-weight="bold" font-style="normal" fill="#3a2c10" text-anchor="middle" transform="rotate(-10.4 141.6 942.7)">P1</text>
<polygon points="125.4,819.2 126.7,816.9 138.5,815.8 184.0,835.3 170.7,838.0" fill="#dddd86" stroke="#77783a" stroke-width="0.4" stroke-linejoin="round"/>
<polygon points="125.4,819.2 170.7,838.0 171.9,921.0 126.7,900.9" fill="url(#gb)" stroke="#77783a" stroke-width="0.4" stroke-linejoin="round"/>
<polygon points="170.7,838.0 184.0,835.3 184.6,917.0 171.9,921.0" fill="#a4a551" stroke="#77783a" stroke-width="0.4" stroke-linejoin="round"/>
<polygon points="96.6,843.3 130.6,837.4 130.6,843.9 96.6,845.9" fill="#d2a65c" stroke="#a98442" stroke-width="0.35" stroke-linejoin="round"/>
<polygon points="96.6,843.3 130.6,837.4 130.6,840.6 117.7,843.6 96.6,845.0" fill="#f3e08c"/>
<polyline points="96.6,843.3 130.6,837.4" fill="none" stroke="#a98442" stroke-width="0.35"/>
<polygon points="96.6,855.5 130.6,849.6 130.6,856.2 96.6,858.1" fill="#d2a65c" stroke="#a98442" stroke-width="0.35" stroke-linejoin="round"/>
<polygon points="96.6,855.5 130.6,849.6 130.6,852.9 117.7,855.9 96.6,857.2" fill="#f3e08c"/>
<polyline points="96.6,855.5 130.6,849.6" fill="none" stroke="#a98442" stroke-width="0.35"/>
<polygon points="114.6,844.4 130.6,841.3 130.6,857.9 114.6,861.0" fill="#dcb468" stroke="#a98442" stroke-width="0.4" stroke-linejoin="round"/>
<polygon points="114.6,844.4 130.6,841.3 130.6,845.2 114.6,848.3" fill="#f3e08c"/>
<polygon points="116.5,849.9 120.7,849.1 120.7,857.2 116.5,858.0" fill="#c49a50" stroke="#8a6a30" stroke-width="0.4" stroke-linejoin="round"/>
<polygon points="117.8,851.6 120.0,851.2 120.0,855.3 117.8,855.8" fill="#ecd48a"/>
<polygon points="123.9,848.5 128.1,847.7 128.1,855.8 123.9,856.6" fill="#c49a50" stroke="#8a6a30" stroke-width="0.4" stroke-linejoin="round"/>
<polygon points="125.2,850.2 127.4,849.7 127.4,853.9 125.2,854.4" fill="#ecd48a"/>
<polygon points="96.6,891.1 130.6,885.3 130.6,891.8 96.6,893.7" fill="#d2a65c" stroke="#a98442" stroke-width="0.35" stroke-linejoin="round"/>
<polygon points="96.6,891.1 130.6,885.3 130.6,888.6 117.7,891.6 96.6,892.8" fill="#f3e08c"/>
<polyline points="96.6,891.1 130.6,885.3" fill="none" stroke="#a98442" stroke-width="0.35"/>
<polygon points="96.6,903.6 130.6,897.9 130.6,904.4 96.6,906.3" fill="#d2a65c" stroke="#a98442" stroke-width="0.35" stroke-linejoin="round"/>
<polygon points="96.6,903.6 130.6,897.9 130.6,901.1 117.7,904.1 96.6,905.3" fill="#f3e08c"/>
<polyline points="96.6,903.6 130.6,897.9" fill="none" stroke="#a98442" stroke-width="0.35"/>
<polygon points="114.6,892.3 130.6,889.2 130.6,906.1 114.6,909.1" fill="#dcb468" stroke="#a98442" stroke-width="0.4" stroke-linejoin="round"/>
<polygon points="114.6,892.3 130.6,889.2 130.6,893.1 114.6,896.2" fill="#f3e08c"/>
<polygon points="116.5,897.8 120.7,897.0 120.7,905.4 116.5,906.1" fill="#c49a50" stroke="#8a6a30" stroke-width="0.4" stroke-linejoin="round"/>
<polygon points="117.8,899.5 120.0,899.1 120.0,903.5 117.8,903.9" fill="#ecd48a"/>
<polygon points="123.9,896.4 128.1,895.6 128.1,904.0 123.9,904.7" fill="#c49a50" stroke="#8a6a30" stroke-width="0.4" stroke-linejoin="round"/>
<polygon points="125.2,898.1 127.4,897.7 127.4,902.1 125.2,902.5" fill="#ecd48a"/>
<polygon points="94.0,752.6 113.6,761.2 113.6,783.2 94.0,774.6" fill="#cfa45c" stroke="#a98442" stroke-width="0.5" stroke-linejoin="round"/>
<polygon points="94.0,752.6 111.6,760.3 111.6,771.8 94.0,764.0" fill="#7d8296"/>
<polyline points="94.0,754.9 111.6,762.6" fill="none" stroke="#3f4558" stroke-width="0.6"/>
<polyline points="94.0,757.2 111.6,764.9" fill="none" stroke="#3f4558" stroke-width="0.6"/>
<polyline points="94.0,759.5 111.6,767.2" fill="none" stroke="#3f4558" stroke-width="0.6"/>
<polyline points="94.0,761.8 111.6,769.5" fill="none" stroke="#3f4558" stroke-width="0.6"/>
<polyline points="102.8,767.9 102.8,778.5" fill="none" stroke="#a98442" stroke-width="0.5"/>
<polygon points="113.6,761.2 167.1,752.3 147.5,743.7 94.0,752.6" fill="#e6ca7c" stroke="#a98442" stroke-width="0.5" stroke-linejoin="round"/>
<polygon points="110.5,759.8 128.1,756.9 111.7,749.7 94.0,752.6" fill="#888da0"/>
<polyline points="107.7,758.6 125.4,755.7" fill="none" stroke="#444a5e" stroke-width="0.6"/>
<polyline points="105.0,757.4 122.6,754.5" fill="none" stroke="#444a5e" stroke-width="0.6"/>
<polyline points="102.2,756.2 119.9,753.3" fill="none" stroke="#444a5e" stroke-width="0.6"/>
<polyline points="99.5,755.0 117.1,752.1" fill="none" stroke="#444a5e" stroke-width="0.6"/>
<polyline points="96.7,753.8 114.4,750.9" fill="none" stroke="#444a5e" stroke-width="0.6"/>
<polygon points="128.1,756.9 133.5,756.0 117.0,748.8 111.7,749.7" fill="#b08a42"/>
<polygon points="133.5,756.0 141.5,754.7 125.0,747.4 117.0,748.8" fill="#f1e28c"/>
<polyline points="125.8,752.6 133.8,751.3" fill="none" stroke="#b89a4a" stroke-width="0.5"/>
<polygon points="141.5,754.7 144.7,754.1 128.2,746.9 125.0,747.4" fill="#a8843e"/>
<polygon points="144.7,754.1 163.2,751.1 146.7,743.8 128.2,746.9" fill="#b9bcc6"/>
<polygon points="146.1,753.4 155.7,751.8 141.0,745.4 131.4,747.0" fill="#f2f2f4"/>
<polyline points="157.8,751.9 141.3,744.7" fill="none" stroke="#6a7084" stroke-width="0.6"/>
<polyline points="159.7,751.6 143.2,744.4" fill="none" stroke="#6a7084" stroke-width="0.6"/>
<polyline points="161.6,751.3 145.1,744.1" fill="none" stroke="#6a7084" stroke-width="0.6"/>
<polygon points="113.6,761.2 167.1,752.3 167.1,773.7 113.6,783.2" fill="#d6ac62" stroke="#a98442" stroke-width="0.5" stroke-linejoin="round"/>
<polygon points="117.3,763.2 163.4,755.5 163.4,764.1 117.3,772.0" fill="#b48e4a"/>
<polygon points="113.6,761.2 167.1,752.3 167.1,754.7 113.6,763.6" fill="#ecd88c"/>
<polygon points="113.6,761.2 117.1,760.6 117.1,782.6 113.6,783.2" fill="#e6cc80"/>
<polygon points="163.9,752.8 167.1,752.3 167.1,773.7 163.9,774.3" fill="#e0c276"/>
<polyline points="113.6,761.2 167.1,752.3 167.1,773.7 113.6,783.2 113.6,761.2" fill="none" stroke="#a98442" stroke-width="0.5"/>
<polygon points="118.9,766.9 129.7,765.1 129.7,769.4 118.9,771.3" fill="#f0e090"/>
<polygon points="152.1,759.5 161.8,757.9 161.8,761.8 152.1,763.4" fill="#f0e090"/>
<polygon points="131.3,762.6 150.0,759.5 150.0,765.9 131.3,769.2" fill="#d2a85e"/>
<polygon points="120.0,773.3 130.2,771.5 130.2,778.1 120.0,779.9" fill="#e0ba6e" stroke="#6a5020" stroke-width="0.5" stroke-linejoin="round"/>
<polygon points="152.7,765.1 162.3,763.4 162.3,769.8 152.7,771.5" fill="#e0ba6e" stroke="#6a5020" stroke-width="0.5" stroke-linejoin="round"/>
<text x="140.6" y="766.7" font-family="Liberation Sans, sans-serif" font-size="6.2" font-weight="bold" font-style="italic" fill="#2a2010" text-anchor="middle" transform="rotate(-9.4 140.6 766.7)">Acrel</text>
<text x="125.1" y="777.9" font-family="Liberation Sans, sans-serif" font-size="4.0" font-weight="bold" font-style="normal" fill="#2a2010" text-anchor="middle" transform="rotate(-9.4 125.1 777.9)">S1</text>
<text x="157.5" y="769.6" font-family="Liberation Sans, sans-serif" font-size="4.0" font-weight="bold" font-style="normal" fill="#2a2010" text-anchor="middle" transform="rotate(-9.4 157.5 769.6)">S2</text>
<ellipse cx="86.1" cy="943.1" rx="5.7" ry="6.0" fill="#4a4a4a"/>
<circle cx="88.3" cy="942.8" r="6.0" fill="#555"/>
<circle cx="88.9" cy="942.8" r="4.3" fill="url(#gs)"/>
<ellipse cx="201.1" cy="922.6" rx="5.7" ry="6.0" fill="#4a4a4a"/>
<circle cx="203.3" cy="922.3" r="6.0" fill="#555"/>
<circle cx="203.9" cy="922.3" r="4.3" fill="url(#gs)"/>
<ellipse cx="397.3" cy="939.8" rx="4.4" ry="4.6" fill="#4a4a4a"/>
<circle cx="399.5" cy="939.5" r="4.6" fill="#555"/>
<circle cx="400.1" cy="939.5" r="3.3" fill="url(#gs)"/>
<polygon points="398.1,914.9 421.9,925.0 421.9,971.7 398.1,961.6" fill="#cfa45c" stroke="#a98442" stroke-width="0.5" stroke-linejoin="round"/>
<polyline points="410.0,930.0 410.0,966.7" fill="none" stroke="#a98442" stroke-width="0.5"/>
<polygon points="393.8,775.2 426.0,789.0 426.0,934.2 393.4,921.7" fill="#cfa45c" stroke="#a98442" stroke-width="0.5" stroke-linejoin="round"/>
<polyline points="408.9,781.7 408.9,926.9" fill="none" stroke="#a98442" stroke-width="0.6"/>
<polyline points="424.1,788.2 424.1,933.4" fill="none" stroke="#a98442" stroke-width="0.4"/>
<polygon points="393.8,775.2 426.0,789.0 562.2,762.6 530.0,748.8" fill="#f2e28a" stroke="#a98442" stroke-width="0.5" stroke-linejoin="round"/>
<polyline points="408.9,781.7 545.1,755.3" fill="none" stroke="#d9be6a" stroke-width="0.6"/>
<polygon points="426.0,789.0 562.2,762.6 562.2,907.9 426.0,934.2" fill="#d5ab61" stroke="#a98442" stroke-width="0.5" stroke-linejoin="round"/>
<polygon points="560.2,763.0 562.2,762.6 562.2,907.9 560.2,908.3" fill="#c79c55"/>
<polyline points="430.8,933.3 430.8,793.2 556.1,768.9 556.1,909.1" fill="none" stroke="#a98442" stroke-width="0.5"/>
<polyline points="432.8,932.9 432.8,794.9 554.0,771.4 554.0,909.5" fill="none" stroke="#dfba72" stroke-width="0.5"/>
<polygon points="468.2,810.6 521.3,800.3 521.3,915.8 517.0,916.6 517.0,806.2 472.6,814.8 472.6,925.2 468.2,926.0" fill="#d9b067" stroke="#a98442" stroke-width="0.5" stroke-linejoin="round"/>
<polygon points="472.6,915.8 483.9,908.5 517.0,912.3 517.0,916.6 472.6,925.2" fill="#f3e08c"/>
<polygon points="483.9,814.8 517.0,806.2 517.0,912.3 483.9,908.5" fill="#c39a52" stroke="#a98442" stroke-width="0.4" stroke-linejoin="round"/>
<polygon points="472.6,814.8 517.0,806.2 483.9,818.4 475.3,820.1" fill="#b48c48"/>
<polygon points="475.3,820.1 483.9,818.4 483.9,908.5 475.3,914.5" fill="#c39a52"/>
<polyline points="498.2,812.8 498.2,910.1" fill="none" stroke="#a98442" stroke-width="0.4"/>
<polyline points="509.8,809.1 509.8,912.2" fill="none" stroke="#a98442" stroke-width="0.4"/>
<polygon points="472.6,820.6 475.3,820.1 475.3,915.2 472.6,915.8" fill="#e9c67c"/>
<polygon points="441.7,842.6 477.8,836.3 477.8,843.6 441.7,845.5" fill="#d2a65c" stroke="#a98442" stroke-width="0.35" stroke-linejoin="round"/>
<polygon points="441.7,842.6 477.8,836.3 477.8,840.0 464.0,843.2 441.7,844.5" fill="#f3e08c"/>
<polyline points="441.7,842.6 477.8,836.3" fill="none" stroke="#a98442" stroke-width="0.35"/>
<polygon points="441.7,856.2 477.8,850.0 477.8,857.3 441.7,859.2" fill="#d2a65c" stroke="#a98442" stroke-width="0.35" stroke-linejoin="round"/>
<polygon points="441.7,856.2 477.8,850.0 477.8,853.6 464.0,856.9 441.7,858.1" fill="#f3e08c"/>
<polyline points="441.7,856.2 477.8,850.0" fill="none" stroke="#a98442" stroke-width="0.35"/>
<polygon points="460.7,844.0 477.8,840.7 477.8,859.1 460.7,862.4" fill="#dcb468" stroke="#a98442" stroke-width="0.4" stroke-linejoin="round"/>
<polygon points="460.7,844.0 477.8,840.7 477.8,845.1 460.7,848.3" fill="#f3e08c"/>
<polygon points="462.8,850.1 467.2,849.3 467.2,858.3 462.8,859.1" fill="#c49a50" stroke="#8a6a30" stroke-width="0.4" stroke-linejoin="round"/>
<polygon points="464.1,852.0 466.5,851.6 466.5,856.2 464.1,856.7" fill="#ecd48a"/>
<polygon points="470.6,848.6 475.0,847.8 475.0,856.8 470.6,857.6" fill="#c49a50" stroke="#8a6a30" stroke-width="0.4" stroke-linejoin="round"/>
<polygon points="472.0,850.5 474.4,850.1 474.4,854.7 472.0,855.2" fill="#ecd48a"/>
<polygon points="441.7,895.9 477.8,889.6 477.8,896.9 441.7,898.8" fill="#d2a65c" stroke="#a98442" stroke-width="0.35" stroke-linejoin="round"/>
<polygon points="441.7,895.9 477.8,889.6 477.8,893.3 464.0,896.5 441.7,897.8" fill="#f3e08c"/>
<polyline points="441.7,895.9 477.8,889.6" fill="none" stroke="#a98442" stroke-width="0.35"/>
<polygon points="441.7,909.8 477.8,903.6 477.8,910.8 441.7,912.7" fill="#d2a65c" stroke="#a98442" stroke-width="0.35" stroke-linejoin="round"/>
<polygon points="441.7,909.8 477.8,903.6 477.8,907.2 464.0,910.4 441.7,911.7" fill="#f3e08c"/>
<polyline points="441.7,909.8 477.8,903.6" fill="none" stroke="#a98442" stroke-width="0.35"/>
<polygon points="460.7,897.3 477.8,894.0 477.8,912.7 460.7,916.0" fill="#dcb468" stroke="#a98442" stroke-width="0.4" stroke-linejoin="round"/>
<polygon points="460.7,897.3 477.8,894.0 477.8,898.4 460.7,901.6" fill="#f3e08c"/>
<polygon points="462.8,903.4 467.2,902.6 467.2,911.9 462.8,912.7" fill="#c49a50" stroke="#8a6a30" stroke-width="0.4" stroke-linejoin="round"/>
<polygon points="464.1,905.3 466.5,904.9 466.5,909.8 464.1,910.3" fill="#ecd48a"/>
<polygon points="470.6,901.9 475.0,901.1 475.0,910.4 470.6,911.2" fill="#c49a50" stroke="#8a6a30" stroke-width="0.4" stroke-linejoin="round"/>
<polygon points="472.0,903.8 474.4,903.4 474.4,908.3 472.0,908.8" fill="#ecd48a"/>
<polygon points="548.6,821.9 517.3,828.7 517.3,836.0 548.6,824.8" fill="#d2a65c" stroke="#a98442" stroke-width="0.35" stroke-linejoin="round"/>
<polygon points="548.6,821.9 517.3,828.7 517.3,832.3 529.2,830.6 548.6,823.8" fill="#f3e08c"/>
<polyline points="548.6,821.9 517.3,828.7" fill="none" stroke="#a98442" stroke-width="0.35"/>
<polygon points="548.6,835.6 517.3,842.3 517.3,849.6 548.6,838.5" fill="#d2a65c" stroke="#a98442" stroke-width="0.35" stroke-linejoin="round"/>
<polygon points="548.6,835.6 517.3,842.3 517.3,846.0 529.2,844.3 548.6,837.4" fill="#f3e08c"/>
<polyline points="548.6,835.6 517.3,842.3" fill="none" stroke="#a98442" stroke-width="0.35"/>
<polygon points="517.3,833.1 535.0,829.6 535.0,848.1 517.3,851.5" fill="#dcb468" stroke="#a98442" stroke-width="0.4" stroke-linejoin="round"/>
<polygon points="517.3,833.1 535.0,829.6 535.0,834.0 517.3,837.4" fill="#f3e08c"/>
<polygon points="519.4,839.2 524.0,838.3 524.0,847.3 519.4,848.2" fill="#c49a50" stroke="#8a6a30" stroke-width="0.4" stroke-linejoin="round"/>
<polygon points="520.8,841.1 523.3,840.6 523.3,845.3 520.8,845.7" fill="#ecd48a"/>
<polygon points="527.5,837.6 532.1,836.7 532.1,845.7 527.5,846.6" fill="#c49a50" stroke="#8a6a30" stroke-width="0.4" stroke-linejoin="round"/>
<polygon points="528.9,839.5 531.4,839.0 531.4,843.7 528.9,844.2" fill="#ecd48a"/>
<polygon points="548.6,875.2 517.3,882.0 517.3,889.3 548.6,878.1" fill="#d2a65c" stroke="#a98442" stroke-width="0.35" stroke-linejoin="round"/>
<polygon points="548.6,875.2 517.3,882.0 517.3,885.6 529.2,883.9 548.6,877.1" fill="#f3e08c"/>
<polyline points="548.6,875.2 517.3,882.0" fill="none" stroke="#a98442" stroke-width="0.35"/>
<polygon points="548.6,889.2 517.3,896.0 517.3,903.2 548.6,892.1" fill="#d2a65c" stroke="#a98442" stroke-width="0.35" stroke-linejoin="round"/>
<polygon points="548.6,889.2 517.3,896.0 517.3,899.6 529.2,897.9 548.6,891.1" fill="#f3e08c"/>
<polyline points="548.6,889.2 517.3,896.0" fill="none" stroke="#a98442" stroke-width="0.35"/>
<polygon points="517.3,886.4 535.0,882.9 535.0,901.7 517.3,905.1" fill="#dcb468" stroke="#a98442" stroke-width="0.4" stroke-linejoin="round"/>
<polygon points="517.3,886.4 535.0,882.9 535.0,887.3 517.3,890.7" fill="#f3e08c"/>
<polygon points="519.4,892.5 524.0,891.6 524.0,900.9 519.4,901.8" fill="#c49a50" stroke="#8a6a30" stroke-width="0.4" stroke-linejoin="round"/>
<polygon points="520.8,894.4 523.3,893.9 523.3,898.9 520.8,899.3" fill="#ecd48a"/>
<polygon points="527.5,890.9 532.1,890.0 532.1,899.3 527.5,900.2" fill="#c49a50" stroke="#8a6a30" stroke-width="0.4" stroke-linejoin="round"/>
<polygon points="528.9,892.8 531.4,892.3 531.4,897.3 528.9,897.8" fill="#ecd48a"/>
<polygon points="488.9,794.8 503.1,792.1 507.9,794.1 493.8,796.9" fill="#f3e08c" stroke="#a98442" stroke-width="0.4" stroke-linejoin="round"/>
<polygon points="488.9,794.8 493.8,796.9 493.8,812.0 488.9,809.9" fill="#c89e54" stroke="#a98442" stroke-width="0.4" stroke-linejoin="round"/>
<polygon points="493.8,796.9 507.9,794.1 507.9,809.2 493.8,812.0" fill="#e2bb6c" stroke="#a98442" stroke-width="0.4" stroke-linejoin="round"/>
<polygon points="498.0,802.9 505.1,801.5 505.1,806.8 498.0,808.1" fill="#f6ecb0" stroke="#7a5c28" stroke-width="0.4" stroke-linejoin="round"/>
<polygon points="499.4,804.1 503.7,803.3 503.7,805.5 499.4,806.4" fill="#c89e54"/>
<polygon points="490.7,780.5 500.2,778.7 500.2,787.4 490.7,789.2" fill="#e6c478" stroke="#6a5020" stroke-width="0.5" stroke-linejoin="round"/>
<text x="495.5" y="787.2" font-family="Liberation Sans, sans-serif" font-size="5.2" font-weight="bold" font-style="normal" fill="#3a2c10" text-anchor="middle" transform="rotate(-11.0 495.5 787.2)">P1</text>
<polygon points="421.9,932.0 556.7,906.6 556.7,945.4 421.9,971.7" fill="#d5ab61"/>
<polyline points="421.9,935.0 421.9,971.7 556.7,945.4 556.7,909.6" fill="none" stroke="#a98442" stroke-width="0.5"/>
<polyline points="426.0,934.2 562.2,907.9" fill="none" stroke="#a98442" stroke-width="0.6"/>
<polyline points="425.9,938.6 552.7,914.7 552.7,942.6 425.9,967.2 425.9,938.6" fill="none" stroke="#a98442" stroke-width="0.5"/>
<polyline points="456.9,928.4 456.9,926.2 505.5,917.1" fill="none" stroke="#7a5c28" stroke-width="0.5"/>
<polygon points="478.5,920.7 499.4,916.8 503.5,918.8 482.6,922.7" fill="#f3e08c" stroke="#a98442" stroke-width="0.4" stroke-linejoin="round"/>
<polygon points="478.5,920.7 482.6,922.7 482.6,940.2 478.5,938.1" fill="#c89e54" stroke="#a98442" stroke-width="0.4" stroke-linejoin="round"/>
<polygon points="482.6,922.7 503.5,918.8 503.5,936.2 482.6,940.2" fill="#e2bb6c" stroke="#a98442" stroke-width="0.4" stroke-linejoin="round"/>
<polygon points="488.9,928.5 500.4,926.4 500.4,933.3 488.9,935.5" fill="#f6ecb0" stroke="#7a5c28" stroke-width="0.4" stroke-linejoin="round"/>
<polygon points="491.4,930.1 498.3,928.8 498.3,931.6 491.4,932.9" fill="#c89e54"/>
<text x="489.3" y="944.0" font-family="Liberation Sans, sans-serif" font-size="6.1" font-weight="bold" font-style="normal" fill="#2a2010" text-anchor="middle" transform="rotate(-10.7 489.3 944.0)">K-100<tspan font-size="60%" dy="-1">=40</tspan></text>
<polygon points="485.3,946.3 493.3,944.7 493.3,953.4 485.3,955.0" fill="#e6c478" stroke="#6a5020" stroke-width="0.5" stroke-linejoin="round"/>
<text x="489.3" y="953.3" font-family="Liberation Sans, sans-serif" font-size="5.2" font-weight="bold" font-style="normal" fill="#3a2c10" text-anchor="middle" transform="rotate(-10.7 489.3 953.3)">P1</text>
<polygon points="473.0,815.4 474.2,812.9 489.3,811.7 535.0,833.0 520.7,836.8" fill="#dddd86" stroke="#77783a" stroke-width="0.4" stroke-linejoin="round"/>
<polygon points="473.0,815.4 520.7,836.8 520.7,928.5 473.0,908.4" fill="url(#gb)" stroke="#77783a" stroke-width="0.4" stroke-linejoin="round"/>
<polygon points="520.7,836.8 535.0,833.0 535.0,923.5 520.7,928.5" fill="#a4a551" stroke="#77783a" stroke-width="0.4" stroke-linejoin="round"/>
<polygon points="441.7,842.6 477.8,836.3 477.8,843.6 441.7,845.5" fill="#d2a65c" stroke="#a98442" stroke-width="0.35" stroke-linejoin="round"/>
<polygon points="441.7,842.6 477.8,836.3 477.8,840.0 464.0,843.2 441.7,844.5" fill="#f3e08c"/>
<polyline points="441.7,842.6 477.8,836.3" fill="none" stroke="#a98442" stroke-width="0.35"/>
<polygon points="441.7,856.2 477.8,850.0 477.8,857.3 441.7,859.2" fill="#d2a65c" stroke="#a98442" stroke-width="0.35" stroke-linejoin="round"/>
<polygon points="441.7,856.2 477.8,850.0 477.8,853.6 464.0,856.9 441.7,858.1" fill="#f3e08c"/>
<polyline points="441.7,856.2 477.8,850.0" fill="none" stroke="#a98442" stroke-width="0.35"/>
<polygon points="460.7,844.0 477.8,840.7 477.8,859.1 460.7,862.4" fill="#dcb468" stroke="#a98442" stroke-width="0.4" stroke-linejoin="round"/>
<polygon points="460.7,844.0 477.8,840.7 477.8,845.1 460.7,848.3" fill="#f3e08c"/>
<polygon points="462.8,850.1 467.2,849.3 467.2,858.3 462.8,859.1" fill="#c49a50" stroke="#8a6a30" stroke-width="0.4" stroke-linejoin="round"/>
<polygon points="464.1,852.0 466.5,851.6 466.5,856.2 464.1,856.7" fill="#ecd48a"/>
<polygon points="470.6,848.6 475.0,847.8 475.0,856.8 470.6,857.6" fill="#c49a50" stroke="#8a6a30" stroke-width="0.4" stroke-linejoin="round"/>
<polygon points="472.0,850.5 474.4,850.1 474.4,854.7 472.0,855.2" fill="#ecd48a"/>
<polygon points="441.7,895.9 477.8,889.6 477.8,896.9 441.7,898.8" fill="#d2a65c" stroke="#a98442" stroke-width="0.35" stroke-linejoin="round"/>
<polygon points="441.7,895.9 477.8,889.6 477.8,893.3 464.0,896.5 441.7,897.8" fill="#f3e08c"/>
<polyline points="441.7,895.9 477.8,889.6" fill="none" stroke="#a98442" stroke-width="0.35"/>
<polygon points="441.7,909.8 477.8,903.6 477.8,910.8 441.7,912.7" fill="#d2a65c" stroke="#a98442" stroke-width="0.35" stroke-linejoin="round"/>
<polygon points="441.7,909.8 477.8,903.6 477.8,907.2 464.0,910.4 441.7,911.7" fill="#f3e08c"/>
<polyline points="441.7,909.8 477.8,903.6" fill="none" stroke="#a98442" stroke-width="0.35"/>
<polygon points="460.7,897.3 477.8,894.0 477.8,912.7 460.7,916.0" fill="#dcb468" stroke="#a98442" stroke-width="0.4" stroke-linejoin="round"/>
<polygon points="460.7,897.3 477.8,894.0 477.8,898.4 460.7,901.6" fill="#f3e08c"/>
<polygon points="462.8,903.4 467.2,902.6 467.2,911.9 462.8,912.7" fill="#c49a50" stroke="#8a6a30" stroke-width="0.4" stroke-linejoin="round"/>
<polygon points="464.1,905.3 466.5,904.9 466.5,909.8 464.1,910.3" fill="#ecd48a"/>
<polygon points="470.6,901.9 475.0,901.1 475.0,910.4 470.6,911.2" fill="#c49a50" stroke="#8a6a30" stroke-width="0.4" stroke-linejoin="round"/>
<polygon points="472.0,903.8 474.4,903.4 474.4,908.3 472.0,908.8" fill="#ecd48a"/>
<line x1="456.5" y1="849.4" x2="463.5" y2="848.2" stroke="#1f2ee6" stroke-width="4.4"/>
<line x1="456.5" y1="848.4" x2="463.5" y2="847.2" stroke="#4f5cff" stroke-width="1.2"/>
<line x1="477.6" y1="845.9" x2="488.4" y2="844.1" stroke="#1f2ee6" stroke-width="4.4"/>
<line x1="477.6" y1="844.9" x2="488.4" y2="843.1" stroke="#4f5cff" stroke-width="1.2"/>
<ellipse cx="453.5" cy="850.0" rx="4.8" ry="4.8" fill="#1f2ee6"/>
<ellipse cx="453.0" cy="848.4" rx="2.6" ry="1.5" fill="#5663ff"/>
<ellipse cx="488.4" cy="842.9" rx="4.6" ry="6.4" fill="#e2bd70" stroke="#8a6a30" stroke-width="0.6"/>
<ellipse cx="489.6" cy="842.9" rx="3" ry="4.4" fill="#f3e3a0" stroke="#a98442" stroke-width="0.5"/>
<line x1="456.5" y1="901.8" x2="463.5" y2="901.0" stroke="#1f2ee6" stroke-width="4.4"/>
<line x1="456.5" y1="900.8" x2="463.5" y2="900.0" stroke="#4f5cff" stroke-width="1.2"/>
<line x1="477.6" y1="899.3" x2="488.4" y2="898.0" stroke="#1f2ee6" stroke-width="4.4"/>
<line x1="477.6" y1="898.3" x2="488.4" y2="897.0" stroke="#4f5cff" stroke-width="1.2"/>
<ellipse cx="453.5" cy="902.4" rx="4.8" ry="4.8" fill="#1f2ee6"/>
<ellipse cx="453.0" cy="900.8" rx="2.6" ry="1.5" fill="#5663ff"/>
<ellipse cx="488.4" cy="896.8" rx="4.6" ry="6.4" fill="#e2bd70" stroke="#8a6a30" stroke-width="0.6"/>
<ellipse cx="489.6" cy="896.8" rx="3" ry="4.4" fill="#f3e3a0" stroke="#a98442" stroke-width="0.5"/>
<line x1="535.1" y1="834.2" x2="540.6" y2="832.9" stroke="#1f2ee6" stroke-width="4.4"/>
<ellipse cx="540.6" cy="832.9" rx="5.2" ry="4.6" fill="#1f2ee6"/>
<ellipse cx="540.6" cy="831.3" rx="2.8" ry="1.5" fill="#5663ff"/>
<line x1="535.1" y1="887.3" x2="540.6" y2="886.0" stroke="#1f2ee6" stroke-width="4.4"/>
<ellipse cx="540.6" cy="886.0" rx="5.2" ry="4.6" fill="#1f2ee6"/>
<ellipse cx="540.6" cy="884.4" rx="2.8" ry="1.5" fill="#5663ff"/>
<polygon points="438.9,744.0 459.4,753.5 459.4,776.6 438.9,767.1" fill="#cfa45c" stroke="#a98442" stroke-width="0.5" stroke-linejoin="round"/>
<polygon points="438.9,744.0 457.3,752.5 457.3,764.6 438.9,756.0" fill="#7d8296"/>
<polyline points="438.9,746.4 457.3,755.0" fill="none" stroke="#3f4558" stroke-width="0.6"/>
<polyline points="438.9,748.8 457.3,757.4" fill="none" stroke="#3f4558" stroke-width="0.6"/>
<polyline points="438.9,751.2 457.3,759.8" fill="none" stroke="#3f4558" stroke-width="0.6"/>
<polyline points="438.9,753.6 457.3,762.2" fill="none" stroke="#3f4558" stroke-width="0.6"/>
<polyline points="448.1,760.3 448.1,771.4" fill="none" stroke="#a98442" stroke-width="0.5"/>
<polygon points="459.4,753.5 516.6,743.2 496.1,733.7 438.9,744.0" fill="#e6ca7c" stroke="#a98442" stroke-width="0.5" stroke-linejoin="round"/>
<polygon points="456.1,752.0 475.0,748.6 457.8,740.6 438.9,744.0" fill="#888da0"/>
<polyline points="453.2,750.6 472.1,747.3" fill="none" stroke="#444a5e" stroke-width="0.6"/>
<polyline points="450.4,749.3 469.3,745.9" fill="none" stroke="#444a5e" stroke-width="0.6"/>
<polyline points="447.5,748.0 466.4,744.6" fill="none" stroke="#444a5e" stroke-width="0.6"/>
<polyline points="444.6,746.7 463.5,743.3" fill="none" stroke="#444a5e" stroke-width="0.6"/>
<polyline points="441.8,745.3 460.6,741.9" fill="none" stroke="#444a5e" stroke-width="0.6"/>
<polygon points="475.0,748.6 480.7,747.6 463.5,739.6 457.8,740.6" fill="#b08a42"/>
<polygon points="480.7,747.6 489.3,746.0 472.1,738.0 463.5,739.6" fill="#f1e28c"/>
<polyline points="472.7,743.8 481.3,742.3" fill="none" stroke="#b89a4a" stroke-width="0.5"/>
<polygon points="489.3,746.0 492.7,745.4 475.5,737.4 472.1,738.0" fill="#a8843e"/>
<polygon points="492.7,745.4 512.5,741.8 495.2,733.9 475.5,737.4" fill="#b9bcc6"/>
<polygon points="494.2,744.6 504.5,742.7 489.1,735.6 478.8,737.5" fill="#f2f2f4"/>
<polyline points="506.7,742.9 489.5,734.9" fill="none" stroke="#6a7084" stroke-width="0.6"/>
<polyline points="508.7,742.5 491.5,734.5" fill="none" stroke="#6a7084" stroke-width="0.6"/>
<polyline points="510.7,742.1 493.5,734.2" fill="none" stroke="#6a7084" stroke-width="0.6"/>
<polygon points="459.4,753.5 516.6,743.2 516.6,765.7 459.4,776.6" fill="#d6ac62" stroke="#a98442" stroke-width="0.5" stroke-linejoin="round"/>
<polygon points="463.4,755.5 512.6,746.6 512.6,755.6 463.4,764.8" fill="#b48e4a"/>
<polygon points="459.4,753.5 516.6,743.2 516.6,745.7 459.4,756.0" fill="#ecd88c"/>
<polygon points="459.4,753.5 463.1,752.8 463.1,775.9 459.4,776.6" fill="#e6cc80"/>
<polygon points="513.2,743.8 516.6,743.2 516.6,765.7 513.2,766.4" fill="#e0c276"/>
<polyline points="459.4,753.5 516.6,743.2 516.6,765.7 459.4,776.6 459.4,753.5" fill="none" stroke="#a98442" stroke-width="0.5"/>
<polygon points="465.1,759.4 476.6,757.3 476.6,761.9 465.1,764.0" fill="#f0e090"/>
<polygon points="500.6,751.1 510.9,749.2 510.9,753.3 500.6,755.2" fill="#f0e090"/>
<polygon points="478.3,754.7 498.3,751.0 498.3,757.8 478.3,761.6" fill="#d2a85e"/>
<polygon points="466.3,766.1 477.1,764.1 477.1,770.9 466.3,773.0" fill="#e0ba6e" stroke="#6a5020" stroke-width="0.5" stroke-linejoin="round"/>
<polygon points="501.2,756.9 511.5,755.0 511.5,761.7 501.2,763.7" fill="#e0ba6e" stroke="#6a5020" stroke-width="0.5" stroke-linejoin="round"/>
<text x="488.3" y="758.8" font-family="Liberation Sans, sans-serif" font-size="6.6" font-weight="bold" font-style="italic" fill="#2a2010" text-anchor="middle" transform="rotate(-10.2 488.3 758.8)">Acrel</text>
<text x="471.7" y="770.8" font-family="Liberation Sans, sans-serif" font-size="4.3" font-weight="bold" font-style="normal" fill="#2a2010" text-anchor="middle" transform="rotate(-10.2 471.7 770.8)">S1</text>
<text x="506.3" y="761.6" font-family="Liberation Sans, sans-serif" font-size="4.3" font-weight="bold" font-style="normal" fill="#2a2010" text-anchor="middle" transform="rotate(-10.2 506.3 761.6)">S2</text>
<ellipse cx="431.8" cy="954.1" rx="5.9" ry="6.2" fill="#4a4a4a"/>
<circle cx="434.0" cy="953.8" r="6.2" fill="#555"/>
<circle cx="434.6" cy="953.8" r="4.5" fill="url(#gs)"/>
<ellipse cx="551.8" cy="930.8" rx="5.9" ry="6.2" fill="#4a4a4a"/>
<circle cx="554.0" cy="930.5" r="6.2" fill="#555"/>
<circle cx="554.6" cy="930.5" r="4.5" fill="url(#gs)"/>
<path d="M423.5,183.6 L423.5,202.0 A5.0,5.0 0 0 0 433.5,202.0 L433.5,183.6 Z" fill="#cfa45c" stroke="#a98442" stroke-width="0.5"/>
<circle cx="430.0" cy="201.8" r="2.1" fill="#f3dc8a" stroke="#a98442" stroke-width="0.5"/>
<path d="M435.7,189.1 L435.7,207.0 A5.0,5.0 0 0 0 445.7,207.0 L445.7,189.1 Z" fill="#cfa45c" stroke="#a98442" stroke-width="0.5"/>
<circle cx="442.2" cy="206.8" r="2.1" fill="#f3dc8a" stroke="#a98442" stroke-width="0.5"/>
<polygon points="446.9,193.8 463.7,190.7 448.0,210.6 446.9,209.1" fill="#d5ab61" stroke="#a98442" stroke-width="0.5" stroke-linejoin="round"/>
<polygon points="515.6,181.2 543.3,176.2 543.3,192.6 538.9,196.1 535.6,194.9" fill="#d5ab61" stroke="#a98442" stroke-width="0.5" stroke-linejoin="round"/>
<circle cx="538.9" cy="191.4" r="1.7" fill="#f3dc8a" stroke="#a98442" stroke-width="0.5"/>
<polygon points="416.1,71.2 442.0,83.0 442.0,195.7 415.6,184.6" fill="#cfa45c" stroke="#a98442" stroke-width="0.5" stroke-linejoin="round"/>
<polyline points="428.3,76.7 428.3,189.4" fill="none" stroke="#a98442" stroke-width="0.6"/>
<polyline points="440.4,82.3 440.4,195.0" fill="none" stroke="#a98442" stroke-width="0.4"/>
<polygon points="416.1,71.2 442.0,83.0 550.8,60.6 524.9,48.8" fill="#f2e28a" stroke="#a98442" stroke-width="0.5" stroke-linejoin="round"/>
<polyline points="428.3,76.7 537.1,54.3" fill="none" stroke="#d9be6a" stroke-width="0.6"/>
<polygon points="442.0,83.0 550.8,60.6 550.3,175.9 517.8,181.8 518.1,90.8 475.7,99.3 475.6,189.6 442.0,195.7" fill="#d5ab61" stroke="#a98442" stroke-width="0.5" stroke-linejoin="round"/>
<polygon points="549.2,60.9 550.8,60.6 550.3,175.9 548.7,176.2" fill="#c79c55"/>
<polyline points="445.8,195.0 445.8,86.2 545.9,65.6 545.4,176.8" fill="none" stroke="#a98442" stroke-width="0.5"/>
<polyline points="447.4,194.7 447.4,87.5 544.2,67.7 543.8,177.1" fill="none" stroke="#dfba72" stroke-width="0.5"/>
<polygon points="475.7,99.3 518.1,90.8 517.8,181.8 514.3,182.5 514.6,95.5 479.2,102.6 479.0,188.9 475.6,189.6" fill="#d9b067" stroke="#a98442" stroke-width="0.5" stroke-linejoin="round"/>
<polygon points="488.2,102.5 514.6,95.5 514.3,183.4 488.1,174.8" fill="#c39a52" stroke="#a98442" stroke-width="0.4" stroke-linejoin="round"/>
<polygon points="479.2,102.6 514.6,95.5 488.2,105.3 481.3,106.7" fill="#b48c48"/>
<polyline points="499.6,100.8 499.4,180.6" fill="none" stroke="#a98442" stroke-width="0.4"/>
<polyline points="508.8,97.8 508.6,183.5" fill="none" stroke="#a98442" stroke-width="0.4"/>
<polygon points="479.2,107.1 481.3,106.7 481.2,188.5 479.0,188.9" fill="#e9c67c"/>
<polygon points="484.9,108.3 488.2,107.6 488.2,115.6 484.9,116.2" fill="#e6c070" stroke="#a98442" stroke-width="0.3" stroke-linejoin="round"/>
<polygon points="484.9,140.7 488.1,140.1 488.1,148.0 484.8,148.6" fill="#e6c070" stroke="#a98442" stroke-width="0.3" stroke-linejoin="round"/>
<polygon points="454.5,124.5 483.3,119.4 483.3,125.1 454.5,126.8" fill="#d2a65c" stroke="#a98442" stroke-width="0.35" stroke-linejoin="round"/>
<polygon points="454.5,124.5 483.3,119.4 483.3,122.2 472.3,124.8 454.5,126.0" fill="#f3e08c"/>
<polyline points="454.5,124.5 483.3,119.4" fill="none" stroke="#a98442" stroke-width="0.35"/>
<polygon points="454.5,135.1 483.3,130.1 483.2,135.8 454.5,137.4" fill="#d2a65c" stroke="#a98442" stroke-width="0.35" stroke-linejoin="round"/>
<polygon points="454.5,135.1 483.3,130.1 483.2,132.9 472.3,135.5 454.5,136.6" fill="#f3e08c"/>
<polyline points="454.5,135.1 483.3,130.1" fill="none" stroke="#a98442" stroke-width="0.35"/>
<polygon points="469.7,125.5 483.3,122.8 483.2,137.2 469.7,139.9" fill="#dcb468" stroke="#a98442" stroke-width="0.4" stroke-linejoin="round"/>
<polygon points="469.7,125.5 483.3,122.8 483.3,126.2 469.7,128.9" fill="#f3e08c"/>
<polygon points="471.3,130.3 474.8,129.6 474.8,136.6 471.3,137.3" fill="#c49a50" stroke="#8a6a30" stroke-width="0.4" stroke-linejoin="round"/>
<polygon points="472.4,131.7 474.3,131.4 474.3,135.0 472.4,135.4" fill="#ecd48a"/>
<polygon points="477.6,129.0 481.1,128.3 481.1,135.4 477.5,136.1" fill="#c49a50" stroke="#8a6a30" stroke-width="0.4" stroke-linejoin="round"/>
<polygon points="478.6,130.5 480.5,130.2 480.5,133.8 478.6,134.2" fill="#ecd48a"/>
<polygon points="454.5,166.0 483.2,161.1 483.2,166.8 454.5,168.2" fill="#d2a65c" stroke="#a98442" stroke-width="0.35" stroke-linejoin="round"/>
<polygon points="454.5,166.0 483.2,161.1 483.2,164.0 472.3,166.5 454.5,167.4" fill="#f3e08c"/>
<polyline points="454.5,166.0 483.2,161.1" fill="none" stroke="#a98442" stroke-width="0.35"/>
<polygon points="454.5,176.8 483.2,172.0 483.2,177.7 454.5,179.1" fill="#d2a65c" stroke="#a98442" stroke-width="0.35" stroke-linejoin="round"/>
<polygon points="454.5,176.8 483.2,172.0 483.2,174.9 472.3,177.4 454.5,178.3" fill="#f3e08c"/>
<polyline points="454.5,176.8 483.2,172.0" fill="none" stroke="#a98442" stroke-width="0.35"/>
<polygon points="469.6,167.1 483.2,164.5 483.2,179.2 469.6,181.7" fill="#dcb468" stroke="#a98442" stroke-width="0.4" stroke-linejoin="round"/>
<polygon points="469.6,167.1 483.2,164.5 483.2,167.9 469.6,170.5" fill="#f3e08c"/>
<polygon points="471.3,171.9 474.8,171.2 474.8,178.5 471.3,179.1" fill="#c49a50" stroke="#8a6a30" stroke-width="0.4" stroke-linejoin="round"/>
<polygon points="472.3,173.4 474.2,173.0 474.2,176.9 472.3,177.2" fill="#ecd48a"/>
<polygon points="477.5,170.7 481.0,170.0 481.0,177.3 477.5,178.0" fill="#c49a50" stroke="#8a6a30" stroke-width="0.4" stroke-linejoin="round"/>
<polygon points="478.6,172.2 480.5,171.9 480.5,175.7 478.6,176.1" fill="#ecd48a"/>
<polygon points="539.7,107.7 514.8,113.2 514.7,118.9 539.7,110.0" fill="#d2a65c" stroke="#a98442" stroke-width="0.35" stroke-linejoin="round"/>
<polygon points="539.7,107.7 514.8,113.2 514.8,116.1 524.2,114.7 539.7,109.2" fill="#f3e08c"/>
<polyline points="539.7,107.7 514.8,113.2" fill="none" stroke="#a98442" stroke-width="0.35"/>
<polygon points="539.7,118.5 514.7,124.0 514.7,129.7 539.7,120.8" fill="#d2a65c" stroke="#a98442" stroke-width="0.35" stroke-linejoin="round"/>
<polygon points="539.7,118.5 514.7,124.0 514.7,126.8 524.2,125.4 539.7,120.0" fill="#f3e08c"/>
<polyline points="539.7,118.5 514.7,124.0" fill="none" stroke="#a98442" stroke-width="0.35"/>
<polygon points="514.8,116.6 528.9,113.9 528.8,128.4 514.7,131.2" fill="#dcb468" stroke="#a98442" stroke-width="0.4" stroke-linejoin="round"/>
<polygon points="514.8,116.6 528.9,113.9 528.9,117.3 514.7,120.1" fill="#f3e08c"/>
<polygon points="516.4,121.4 520.1,120.7 520.1,127.8 516.4,128.5" fill="#c49a50" stroke="#8a6a30" stroke-width="0.4" stroke-linejoin="round"/>
<polygon points="517.6,122.9 519.5,122.6 519.5,126.2 517.5,126.6" fill="#ecd48a"/>
<polygon points="522.9,120.2 526.6,119.5 526.6,126.6 522.9,127.3" fill="#c49a50" stroke="#8a6a30" stroke-width="0.4" stroke-linejoin="round"/>
<polygon points="524.0,121.7 526.0,121.3 526.0,125.0 524.0,125.4" fill="#ecd48a"/>
<polygon points="539.6,149.9 514.6,155.2 514.6,160.9 539.6,152.2" fill="#d2a65c" stroke="#a98442" stroke-width="0.35" stroke-linejoin="round"/>
<polygon points="539.6,149.9 514.6,155.2 514.6,158.1 524.1,156.7 539.6,151.4" fill="#f3e08c"/>
<polyline points="539.6,149.9 514.6,155.2" fill="none" stroke="#a98442" stroke-width="0.35"/>
<polygon points="539.5,161.0 514.6,166.2 514.6,171.9 539.5,163.3" fill="#d2a65c" stroke="#a98442" stroke-width="0.35" stroke-linejoin="round"/>
<polygon points="539.5,161.0 514.6,166.2 514.6,169.0 524.1,167.7 539.5,162.5" fill="#f3e08c"/>
<polyline points="539.5,161.0 514.6,166.2" fill="none" stroke="#a98442" stroke-width="0.35"/>
<polygon points="514.6,158.6 528.7,156.0 528.7,170.8 514.6,173.4" fill="#dcb468" stroke="#a98442" stroke-width="0.4" stroke-linejoin="round"/>
<polygon points="514.6,158.6 528.7,156.0 528.7,159.4 514.6,162.1" fill="#f3e08c"/>
<polygon points="516.3,163.5 520.0,162.8 519.9,170.1 516.3,170.8" fill="#c49a50" stroke="#8a6a30" stroke-width="0.4" stroke-linejoin="round"/>
<polygon points="517.4,165.0 519.4,164.6 519.4,168.5 517.4,168.9" fill="#ecd48a"/>
<polygon points="522.8,162.3 526.5,161.6 526.4,168.9 522.8,169.6" fill="#c49a50" stroke="#8a6a30" stroke-width="0.4" stroke-linejoin="round"/>
<polygon points="523.9,163.8 525.9,163.4 525.9,167.3 523.9,167.7" fill="#ecd48a"/>
<polygon points="492.2,86.8 503.5,84.5 507.4,86.2 496.1,88.5" fill="#f3e08c" stroke="#a98442" stroke-width="0.4" stroke-linejoin="round"/>
<polygon points="492.2,86.8 496.1,88.5 496.1,100.4 492.2,98.6" fill="#c89e54" stroke="#a98442" stroke-width="0.4" stroke-linejoin="round"/>
<polygon points="496.1,88.5 507.4,86.2 507.4,98.1 496.1,100.4" fill="#e2bb6c" stroke="#a98442" stroke-width="0.4" stroke-linejoin="round"/>
<polygon points="499.5,93.2 505.2,92.0 505.1,96.2 499.5,97.3" fill="#f6ecb0" stroke="#7a5c28" stroke-width="0.4" stroke-linejoin="round"/>
<polygon points="500.6,94.1 504.0,93.5 504.0,95.2 500.6,95.9" fill="#c89e54"/>
<polygon points="493.7,75.6 501.3,74.0 501.3,80.8 493.7,82.4" fill="#e6c478" stroke="#6a5020" stroke-width="0.5" stroke-linejoin="round"/>
<text x="497.5" y="80.8" font-family="Liberation Sans, sans-serif" font-size="4.1" font-weight="bold" font-style="normal" fill="#3a2c10" text-anchor="middle" transform="rotate(-11.6 497.5 80.8)">P1</text>
<polygon points="452.5,48.2 468.8,55.9 468.8,72.9 452.5,65.2" fill="#cfa45c" stroke="#a98442" stroke-width="0.5" stroke-linejoin="round"/>
<polygon points="452.5,48.2 467.2,55.1 467.2,64.0 452.5,57.0" fill="#7d8296"/>
<polyline points="452.5,50.0 467.2,56.9" fill="none" stroke="#3f4558" stroke-width="0.6"/>
<polyline points="452.5,51.7 467.2,58.7" fill="none" stroke="#3f4558" stroke-width="0.6"/>
<polyline points="452.5,53.5 467.2,60.4" fill="none" stroke="#3f4558" stroke-width="0.6"/>
<polyline points="452.5,55.3 467.2,62.2" fill="none" stroke="#3f4558" stroke-width="0.6"/>
<polyline points="459.8,60.5 459.8,68.7" fill="none" stroke="#a98442" stroke-width="0.5"/>
<polygon points="468.8,55.9 514.3,47.5 498.0,39.8 452.5,48.2" fill="#e6ca7c" stroke="#a98442" stroke-width="0.5" stroke-linejoin="round"/>
<polygon points="466.2,54.7 481.2,51.9 467.5,45.4 452.5,48.2" fill="#888da0"/>
<polyline points="463.9,53.6 478.9,50.8" fill="none" stroke="#444a5e" stroke-width="0.6"/>
<polyline points="461.6,52.5 476.6,49.7" fill="none" stroke="#444a5e" stroke-width="0.6"/>
<polyline points="459.3,51.4 474.4,48.7" fill="none" stroke="#444a5e" stroke-width="0.6"/>
<polyline points="457.1,50.4 472.1,47.6" fill="none" stroke="#444a5e" stroke-width="0.6"/>
<polyline points="454.8,49.3 469.8,46.5" fill="none" stroke="#444a5e" stroke-width="0.6"/>
<polygon points="481.2,51.9 485.8,51.1 472.1,44.6 467.5,45.4" fill="#b08a42"/>
<polygon points="485.8,51.1 492.6,49.8 478.9,43.3 472.1,44.6" fill="#f1e28c"/>
<polyline points="479.4,48.1 486.2,46.8" fill="none" stroke="#b89a4a" stroke-width="0.5"/>
<polygon points="492.6,49.8 495.3,49.3 481.6,42.8 478.9,43.3" fill="#a8843e"/>
<polygon points="495.3,49.3 511.0,46.4 497.3,39.9 481.6,42.8" fill="#b9bcc6"/>
<polygon points="496.5,48.6 504.7,47.1 492.4,41.4 484.3,42.9" fill="#f2f2f4"/>
<polyline points="506.5,47.2 492.8,40.8" fill="none" stroke="#6a7084" stroke-width="0.6"/>
<polyline points="508.1,46.9 494.4,40.5" fill="none" stroke="#6a7084" stroke-width="0.6"/>
<polyline points="509.6,46.6 496.0,40.2" fill="none" stroke="#6a7084" stroke-width="0.6"/>
<polygon points="468.8,55.9 514.3,47.5 514.3,64.9 468.8,72.9" fill="#d6ac62" stroke="#a98442" stroke-width="0.5" stroke-linejoin="round"/>
<polygon points="472.0,57.4 511.1,50.2 511.1,57.1 472.0,64.2" fill="#b48e4a"/>
<polygon points="468.8,55.9 514.3,47.5 514.3,49.4 468.8,57.8" fill="#ecd88c"/>
<polygon points="468.8,55.9 471.8,55.4 471.8,72.4 468.8,72.9" fill="#e6cc80"/>
<polygon points="511.6,48.0 514.3,47.5 514.3,64.9 511.6,65.4" fill="#e0c276"/>
<polyline points="468.8,55.9 514.3,47.5 514.3,64.9 468.8,72.9 468.8,55.9" fill="none" stroke="#a98442" stroke-width="0.5"/>
<polygon points="473.4,60.2 482.4,58.5 482.4,61.9 473.4,63.6" fill="#f0e090"/>
<polygon points="501.6,53.7 509.7,52.2 509.7,55.3 501.6,56.8" fill="#f0e090"/>
<polygon points="483.8,56.6 499.7,53.6 499.7,58.8 483.8,61.7" fill="#d2a85e"/>
<polygon points="474.3,65.1 482.9,63.6 482.9,68.7 474.3,70.2" fill="#e0ba6e" stroke="#6a5020" stroke-width="0.5" stroke-linejoin="round"/>
<polygon points="502.0,58.1 510.2,56.6 510.2,61.8 502.0,63.3" fill="#e0ba6e" stroke="#6a5020" stroke-width="0.5" stroke-linejoin="round"/>
<text x="491.8" y="59.6" font-family="Liberation Sans, sans-serif" font-size="5.2" font-weight="bold" font-style="italic" fill="#2a2010" text-anchor="middle" transform="rotate(-10.5 491.8 59.6)">Acrel</text>
<text x="478.6" y="68.6" font-family="Liberation Sans, sans-serif" font-size="3.4" font-weight="bold" font-style="normal" fill="#2a2010" text-anchor="middle" transform="rotate(-10.5 478.6 68.6)">S1</text>
<text x="506.1" y="61.7" font-family="Liberation Sans, sans-serif" font-size="3.4" font-weight="bold" font-style="normal" fill="#2a2010" text-anchor="middle" transform="rotate(-10.5 506.1 61.7)">S2</text>
<circle cx="495.9" cy="222.8" r="4.8" fill="#3c3c3c"/>
<circle cx="494.7" cy="222.8" r="4.8" fill="#555"/>
<circle cx="494.2" cy="222.8" r="2.9" fill="#9a9a9a"/>
<circle cx="494.2" cy="222.8" r="1.4" fill="#444"/>
<line x1="547.5" y1="248.6" x2="574.4" y2="259.4" stroke="#777" stroke-width="4.2" stroke-linecap="round"/>
<line x1="547.5" y1="248.1" x2="574.4" y2="258.9" stroke="#d9d9d9" stroke-width="2.2" stroke-linecap="round"/>
<ellipse cx="572.2" cy="259.7" rx="5.3" ry="5.6" fill="#4a4a4a"/>
<circle cx="574.4" cy="259.4" r="5.6" fill="#555"/>
<circle cx="575.0" cy="259.4" r="4.0" fill="url(#gs)"/>
<polygon points="419.7,241.7 437.8,250.0 546.1,229.2 528.0,220.9" fill="#dcb468" stroke="#a98442" stroke-width="0.5" stroke-linejoin="round"/>
<polygon points="438.9,248.4 540.7,228.8 526.6,222.4 424.8,241.9" fill="#c79c52" stroke="#a98442" stroke-width="0.4" stroke-linejoin="round"/>
<polygon points="463.1,244.7 512.9,235.1 498.0,228.3 448.2,237.9" fill="#f3e08c" stroke="#a98442" stroke-width="0.4" stroke-linejoin="round"/>
<polyline points="455.6,241.3 505.5,231.7" fill="none" stroke="#d6bd66" stroke-width="0.5"/>
<polyline points="452.6,239.9 502.4,230.3" fill="none" stroke="#d6bd66" stroke-width="0.5"/>
<polygon points="437.8,227.4 445.8,230.0 445.8,247.2 437.8,244.6" fill="#a2a2a2"/>
<polygon points="445.8,230.0 457.8,228.0 457.8,245.0 445.8,247.2" fill="#828282"/>
<polygon points="437.8,227.4 449.8,225.6 457.8,228.0 445.8,230.0" fill="#bdbdbd"/>
<polygon points="509.4,214.3 517.2,216.9 517.2,234.7 509.4,232.1" fill="#a2a2a2"/>
<polygon points="517.2,216.9 528.9,214.9 528.9,232.5 517.2,234.7" fill="#828282"/>
<polygon points="509.4,214.3 521.1,212.5 528.9,214.9 517.2,216.9" fill="#bdbdbd"/>
<polygon points="419.7,241.7 437.8,250.0 437.8,277.8 419.7,269.5" fill="#cfa45c" stroke="#a98442" stroke-width="0.5" stroke-linejoin="round"/>
<polyline points="428.8,245.8 428.8,273.7" fill="none" stroke="#a98442" stroke-width="0.5"/>
<polygon points="437.8,250.0 546.1,229.2 546.1,255.6 437.8,277.8" fill="#d5ab61" stroke="#a98442" stroke-width="0.5" stroke-linejoin="round"/>
<polyline points="441.0,253.3 542.9,233.5 542.9,253.6 441.0,274.4 441.0,253.3" fill="none" stroke="#a98442" stroke-width="0.5"/>
<polyline points="466.0,248.4 466.0,246.0 504.9,238.5" fill="none" stroke="#7a5c28" stroke-width="0.5"/>
<circle cx="444.3" cy="264.0" r="1.5" fill="#e9cf88" stroke="#7a5c28" stroke-width="0.5"/>
<circle cx="539.6" cy="245.0" r="1.5" fill="#e9cf88" stroke="#7a5c28" stroke-width="0.5"/>
<polygon points="483.3,239.6 500.1,236.4 503.3,238.0 486.5,241.3" fill="#f3e08c" stroke="#a98442" stroke-width="0.4" stroke-linejoin="round"/>
<polygon points="483.3,239.6 486.5,241.3 486.5,253.8 483.3,252.1" fill="#c89e54" stroke="#a98442" stroke-width="0.4" stroke-linejoin="round"/>
<polygon points="486.5,241.3 503.3,238.0 503.3,250.5 486.5,253.8" fill="#e2bb6c" stroke="#a98442" stroke-width="0.4" stroke-linejoin="round"/>
<polygon points="491.6,245.3 500.8,243.5 500.8,248.5 491.6,250.3" fill="#f6ecb0" stroke="#7a5c28" stroke-width="0.4" stroke-linejoin="round"/>
<polygon points="493.6,246.4 499.1,245.3 499.1,247.3 493.6,248.4" fill="#c89e54"/>
<text x="492.0" y="255.9" font-family="Liberation Sans, sans-serif" font-size="4.9" font-weight="bold" font-style="normal" fill="#2a2010" text-anchor="middle" transform="rotate(-10.9 492.0 255.9)">K-100<tspan font-size="60%" dy="-1">=40</tspan></text>
<polygon points="488.7,257.6 495.2,256.3 495.2,262.8 488.7,264.1" fill="#e6c478" stroke="#6a5020" stroke-width="0.5" stroke-linejoin="round"/>
<text x="492.0" y="262.8" font-family="Liberation Sans, sans-serif" font-size="4.1" font-weight="bold" font-style="normal" fill="#3a2c10" text-anchor="middle" transform="rotate(-10.9 492.0 262.8)">P1</text>
<line x1="451.7" y1="266.7" x2="477.6" y2="277.6" stroke="#777" stroke-width="4.2" stroke-linecap="round"/>
<line x1="451.7" y1="266.2" x2="477.6" y2="277.1" stroke="#d9d9d9" stroke-width="2.2" stroke-linecap="round"/>
<ellipse cx="475.4" cy="277.9" rx="5.3" ry="5.6" fill="#4a4a4a"/>
<circle cx="477.6" cy="277.6" r="5.6" fill="#555"/>
<circle cx="478.2" cy="277.6" r="4.0" fill="url(#gs)"/>
<circle cx="399.5" cy="243.0" r="5.2" fill="#3c3c3c"/>
<circle cx="398.3" cy="243.0" r="5.2" fill="#555"/>
<circle cx="397.8" cy="243.0" r="3.1" fill="#9a9a9a"/>
<circle cx="397.8" cy="243.0" r="1.6" fill="#444"/>
<path d="M47.7,526.1 L47.7,543.8 A4.4,4.4 0 0 0 56.6,543.8 L56.6,526.1 Z" fill="#cfa45c" stroke="#a98442" stroke-width="0.5"/>
<circle cx="53.5" cy="543.6" r="1.9" fill="#f3dc8a" stroke="#a98442" stroke-width="0.5"/>
<path d="M58.8,531.1 L58.8,548.3 A4.4,4.4 0 0 0 67.7,548.3 L67.7,531.1 Z" fill="#cfa45c" stroke="#a98442" stroke-width="0.5"/>
<circle cx="64.6" cy="548.1" r="1.9" fill="#f3dc8a" stroke="#a98442" stroke-width="0.5"/>
<polygon points="68.7,535.7 83.7,532.7 69.7,551.3 68.7,549.8" fill="#d5ab61" stroke="#a98442" stroke-width="0.5" stroke-linejoin="round"/>
<polygon points="129.9,523.4 154.4,518.5 154.4,533.8 150.6,537.0 147.7,535.8" fill="#d5ab61" stroke="#a98442" stroke-width="0.5" stroke-linejoin="round"/>
<circle cx="150.6" cy="532.6" r="1.5" fill="#f3dc8a" stroke="#a98442" stroke-width="0.5"/>
<polygon points="40.6,422.7 64.2,433.3 64.4,537.6 40.1,528.0" fill="#cfa45c" stroke="#a98442" stroke-width="0.5" stroke-linejoin="round"/>
<polyline points="51.7,427.7 51.9,532.0" fill="none" stroke="#a98442" stroke-width="0.6"/>
<polyline points="62.8,432.7 63.0,537.0" fill="none" stroke="#a98442" stroke-width="0.4"/>
<polygon points="40.6,422.7 64.2,433.3 160.7,412.6 137.1,402.0" fill="#f2e28a" stroke="#a98442" stroke-width="0.5" stroke-linejoin="round"/>
<polyline points="51.7,427.7 148.2,407.0" fill="none" stroke="#d9be6a" stroke-width="0.6"/>
<polygon points="64.2,433.3 160.7,412.6 160.7,518.2 131.8,524.0 131.8,440.4 94.1,448.3 94.3,531.6 64.4,537.6" fill="#d5ab61" stroke="#a98442" stroke-width="0.5" stroke-linejoin="round"/>
<polygon points="159.3,412.9 160.7,412.6 160.7,518.2 159.3,518.5" fill="#c79c55"/>
<polyline points="67.8,536.9 67.6,436.2 156.4,417.2 156.4,519.1" fill="none" stroke="#a98442" stroke-width="0.5"/>
<polyline points="69.2,536.6 69.0,437.5 154.9,419.1 154.9,519.4" fill="none" stroke="#dfba72" stroke-width="0.5"/>
<polygon points="94.1,448.3 131.8,440.4 131.8,524.0 128.7,524.6 128.7,444.7 97.2,451.4 97.3,531.0 94.3,531.6" fill="#d9b067" stroke="#a98442" stroke-width="0.5" stroke-linejoin="round"/>
<polygon points="105.2,451.2 128.7,444.7 128.7,525.5 105.3,517.8" fill="#c39a52" stroke="#a98442" stroke-width="0.4" stroke-linejoin="round"/>
<polygon points="97.2,451.4 128.7,444.7 105.2,453.9 99.2,455.1" fill="#b48c48"/>
<polyline points="115.4,449.6 115.4,523.1" fill="none" stroke="#a98442" stroke-width="0.4"/>
<polyline points="123.6,446.8 123.6,525.7" fill="none" stroke="#a98442" stroke-width="0.4"/>
<polygon points="97.2,455.5 99.2,455.1 99.3,530.6 97.3,531.0" fill="#e9c67c"/>
<polygon points="75.4,471.7 100.9,466.8 100.9,472.1 75.4,473.7" fill="#d2a65c" stroke="#a98442" stroke-width="0.35" stroke-linejoin="round"/>
<polygon points="75.4,471.7 100.9,466.8 100.9,469.4 91.2,471.9 75.4,473.0" fill="#f3e08c"/>
<polyline points="75.4,471.7 100.9,466.8" fill="none" stroke="#a98442" stroke-width="0.35"/>
<polygon points="75.4,481.5 100.9,476.7 100.9,481.9 75.4,483.6" fill="#d2a65c" stroke="#a98442" stroke-width="0.35" stroke-linejoin="round"/>
<polygon points="75.4,481.5 100.9,476.7 100.9,479.3 91.2,481.7 75.4,482.8" fill="#f3e08c"/>
<polyline points="75.4,481.5 100.9,476.7" fill="none" stroke="#a98442" stroke-width="0.35"/>
<polygon points="88.9,472.5 100.9,470.0 100.9,483.3 88.9,485.8" fill="#dcb468" stroke="#a98442" stroke-width="0.4" stroke-linejoin="round"/>
<polygon points="88.9,472.5 100.9,470.0 100.9,473.1 88.9,475.6" fill="#f3e08c"/>
<polygon points="90.3,476.9 93.5,476.2 93.5,482.7 90.3,483.4" fill="#c49a50" stroke="#8a6a30" stroke-width="0.4" stroke-linejoin="round"/>
<polygon points="91.3,478.3 93.0,477.9 93.0,481.3 91.3,481.6" fill="#ecd48a"/>
<polygon points="95.9,475.7 99.0,475.1 99.0,481.6 95.9,482.2" fill="#c49a50" stroke="#8a6a30" stroke-width="0.4" stroke-linejoin="round"/>
<polygon points="96.8,477.1 98.5,476.8 98.5,480.1 96.8,480.5" fill="#ecd48a"/>
<polygon points="75.4,510.0 101.0,505.3 101.0,510.5 75.4,512.1" fill="#d2a65c" stroke="#a98442" stroke-width="0.35" stroke-linejoin="round"/>
<polygon points="75.4,510.0 101.0,505.3 101.0,507.9 91.3,510.3 75.4,511.3" fill="#f3e08c"/>
<polyline points="75.4,510.0 101.0,505.3" fill="none" stroke="#a98442" stroke-width="0.35"/>
<polygon points="75.4,520.0 101.0,515.3 101.0,520.6 75.5,522.1" fill="#d2a65c" stroke="#a98442" stroke-width="0.35" stroke-linejoin="round"/>
<polygon points="75.4,520.0 101.0,515.3 101.0,518.0 91.3,520.4 75.5,521.4" fill="#f3e08c"/>
<polyline points="75.4,520.0 101.0,515.3" fill="none" stroke="#a98442" stroke-width="0.35"/>
<polygon points="88.9,510.9 101.0,508.4 101.0,521.9 88.9,524.4" fill="#dcb468" stroke="#a98442" stroke-width="0.4" stroke-linejoin="round"/>
<polygon points="88.9,510.9 101.0,508.4 101.0,511.6 88.9,514.0" fill="#f3e08c"/>
<polygon points="90.4,515.3 93.5,514.7 93.5,521.4 90.4,522.0" fill="#c49a50" stroke="#8a6a30" stroke-width="0.4" stroke-linejoin="round"/>
<polygon points="91.3,516.7 93.0,516.3 93.0,519.9 91.3,520.2" fill="#ecd48a"/>
<polygon points="95.9,514.2 99.0,513.5 99.1,520.2 95.9,520.9" fill="#c49a50" stroke="#8a6a30" stroke-width="0.4" stroke-linejoin="round"/>
<polygon points="96.9,515.6 98.6,515.2 98.6,518.8 96.9,519.1" fill="#ecd48a"/>
<polygon points="151.1,455.8 128.9,461.0 128.9,466.2 151.1,457.9" fill="#d2a65c" stroke="#a98442" stroke-width="0.35" stroke-linejoin="round"/>
<polygon points="151.1,455.8 128.9,461.0 128.9,463.6 137.3,462.3 151.1,457.2" fill="#f3e08c"/>
<polyline points="151.1,455.8 128.9,461.0" fill="none" stroke="#a98442" stroke-width="0.35"/>
<polygon points="151.1,465.7 128.9,470.9 128.9,476.1 151.1,467.8" fill="#d2a65c" stroke="#a98442" stroke-width="0.35" stroke-linejoin="round"/>
<polygon points="151.1,465.7 128.9,470.9 128.9,473.5 137.3,472.2 151.1,467.1" fill="#f3e08c"/>
<polyline points="151.1,465.7 128.9,470.9" fill="none" stroke="#a98442" stroke-width="0.35"/>
<polygon points="128.9,464.1 141.4,461.5 141.4,474.9 128.9,477.5" fill="#dcb468" stroke="#a98442" stroke-width="0.4" stroke-linejoin="round"/>
<polygon points="128.9,464.1 141.4,461.5 141.4,464.7 128.9,467.3" fill="#f3e08c"/>
<polygon points="130.4,468.5 133.6,467.9 133.7,474.4 130.4,475.1" fill="#c49a50" stroke="#8a6a30" stroke-width="0.4" stroke-linejoin="round"/>
<polygon points="131.4,469.9 133.1,469.6 133.1,472.9 131.4,473.3" fill="#ecd48a"/>
<polygon points="136.2,467.3 139.4,466.7 139.4,473.2 136.2,473.9" fill="#c49a50" stroke="#8a6a30" stroke-width="0.4" stroke-linejoin="round"/>
<polygon points="137.2,468.7 138.9,468.4 138.9,471.7 137.2,472.1" fill="#ecd48a"/>
<polygon points="151.1,494.5 128.9,499.6 128.9,504.8 151.1,496.6" fill="#d2a65c" stroke="#a98442" stroke-width="0.35" stroke-linejoin="round"/>
<polygon points="151.1,494.5 128.9,499.6 128.9,502.2 137.3,500.9 151.1,495.9" fill="#f3e08c"/>
<polyline points="151.1,494.5 128.9,499.6" fill="none" stroke="#a98442" stroke-width="0.35"/>
<polygon points="151.1,504.6 128.9,509.7 128.9,514.9 151.1,506.7" fill="#d2a65c" stroke="#a98442" stroke-width="0.35" stroke-linejoin="round"/>
<polygon points="151.1,504.6 128.9,509.7 128.9,512.3 137.3,511.0 151.1,506.0" fill="#f3e08c"/>
<polyline points="151.1,504.6 128.9,509.7" fill="none" stroke="#a98442" stroke-width="0.35"/>
<polygon points="128.9,502.7 141.4,500.2 141.4,513.8 128.9,516.3" fill="#dcb468" stroke="#a98442" stroke-width="0.4" stroke-linejoin="round"/>
<polygon points="128.9,502.7 141.4,500.2 141.4,503.3 128.9,505.9" fill="#f3e08c"/>
<polygon points="130.4,507.2 133.7,506.5 133.7,513.2 130.4,513.9" fill="#c49a50" stroke="#8a6a30" stroke-width="0.4" stroke-linejoin="round"/>
<polygon points="131.4,508.5 133.2,508.2 133.2,511.7 131.4,512.1" fill="#ecd48a"/>
<polygon points="136.2,506.0 139.4,505.3 139.4,512.1 136.2,512.7" fill="#c49a50" stroke="#8a6a30" stroke-width="0.4" stroke-linejoin="round"/>
<polygon points="137.2,507.4 138.9,507.0 138.9,510.6 137.2,510.9" fill="#ecd48a"/>
<polygon points="97.9,450.8 99.2,449.1 109.2,448.3 141.1,464.4 131.8,466.7" fill="#dddd86" stroke="#77783a" stroke-width="0.4" stroke-linejoin="round"/>
<polygon points="97.9,450.8 131.8,466.7 131.8,534.5 97.9,518.2" fill="url(#gb)" stroke="#77783a" stroke-width="0.4" stroke-linejoin="round"/>
<polygon points="131.8,466.7 141.1,464.4 141.1,530.8 131.8,534.5" fill="#a4a551" stroke="#77783a" stroke-width="0.4" stroke-linejoin="round"/>
<polygon points="75.4,471.7 100.9,466.8 100.9,472.1 75.4,473.7" fill="#d2a65c" stroke="#a98442" stroke-width="0.35" stroke-linejoin="round"/>
<polygon points="75.4,471.7 100.9,466.8 100.9,469.4 91.2,471.9 75.4,473.0" fill="#f3e08c"/>
<polyline points="75.4,471.7 100.9,466.8" fill="none" stroke="#a98442" stroke-width="0.35"/>
<polygon points="75.4,481.5 100.9,476.7 100.9,481.9 75.4,483.6" fill="#d2a65c" stroke="#a98442" stroke-width="0.35" stroke-linejoin="round"/>
<polygon points="75.4,481.5 100.9,476.7 100.9,479.3 91.2,481.7 75.4,482.8" fill="#f3e08c"/>
<polyline points="75.4,481.5 100.9,476.7" fill="none" stroke="#a98442" stroke-width="0.35"/>
<polygon points="88.9,472.5 100.9,470.0 100.9,483.3 88.9,485.8" fill="#dcb468" stroke="#a98442" stroke-width="0.4" stroke-linejoin="round"/>
<polygon points="88.9,472.5 100.9,470.0 100.9,473.1 88.9,475.6" fill="#f3e08c"/>
<polygon points="90.3,476.9 93.5,476.2 93.5,482.7 90.3,483.4" fill="#c49a50" stroke="#8a6a30" stroke-width="0.4" stroke-linejoin="round"/>
<polygon points="91.3,478.3 93.0,477.9 93.0,481.3 91.3,481.6" fill="#ecd48a"/>
<polygon points="95.9,475.7 99.0,475.1 99.0,481.6 95.9,482.2" fill="#c49a50" stroke="#8a6a30" stroke-width="0.4" stroke-linejoin="round"/>
<polygon points="96.8,477.1 98.5,476.8 98.5,480.1 96.8,480.5" fill="#ecd48a"/>
<polygon points="75.4,510.0 101.0,505.3 101.0,510.5 75.4,512.1" fill="#d2a65c" stroke="#a98442" stroke-width="0.35" stroke-linejoin="round"/>
<polygon points="75.4,510.0 101.0,505.3 101.0,507.9 91.3,510.3 75.4,511.3" fill="#f3e08c"/>
<polyline points="75.4,510.0 101.0,505.3" fill="none" stroke="#a98442" stroke-width="0.35"/>
<polygon points="75.4,520.0 101.0,515.3 101.0,520.6 75.5,522.1" fill="#d2a65c" stroke="#a98442" stroke-width="0.35" stroke-linejoin="round"/>
<polygon points="75.4,520.0 101.0,515.3 101.0,518.0 91.3,520.4 75.5,521.4" fill="#f3e08c"/>
<polyline points="75.4,520.0 101.0,515.3" fill="none" stroke="#a98442" stroke-width="0.35"/>
<polygon points="88.9,510.9 101.0,508.4 101.0,521.9 88.9,524.4" fill="#dcb468" stroke="#a98442" stroke-width="0.4" stroke-linejoin="round"/>
<polygon points="88.9,510.9 101.0,508.4 101.0,511.6 88.9,514.0" fill="#f3e08c"/>
<polygon points="90.4,515.3 93.5,514.7 93.5,521.4 90.4,522.0" fill="#c49a50" stroke="#8a6a30" stroke-width="0.4" stroke-linejoin="round"/>
<polygon points="91.3,516.7 93.0,516.3 93.0,519.9 91.3,520.2" fill="#ecd48a"/>
<polygon points="95.9,514.2 99.0,513.5 99.1,520.2 95.9,520.9" fill="#c49a50" stroke="#8a6a30" stroke-width="0.4" stroke-linejoin="round"/>
<polygon points="96.9,515.6 98.6,515.2 98.6,518.8 96.9,519.1" fill="#ecd48a"/>
<polygon points="108.8,436.7 118.8,434.6 122.4,436.2 112.3,438.3" fill="#f3e08c" stroke="#a98442" stroke-width="0.4" stroke-linejoin="round"/>
<polygon points="108.8,436.7 112.3,438.3 112.3,449.2 108.8,447.7" fill="#c89e54" stroke="#a98442" stroke-width="0.4" stroke-linejoin="round"/>
<polygon points="112.3,438.3 122.4,436.2 122.4,447.1 112.3,449.2" fill="#e2bb6c" stroke="#a98442" stroke-width="0.4" stroke-linejoin="round"/>
<polygon points="115.4,442.6 120.4,441.5 120.4,445.4 115.4,446.4" fill="#f6ecb0" stroke="#7a5c28" stroke-width="0.4" stroke-linejoin="round"/>
<polygon points="116.4,443.5 119.4,442.8 119.4,444.5 116.4,445.1" fill="#c89e54"/>
<polygon points="110.0,426.4 116.8,425.0 116.8,431.3 110.0,432.7" fill="#e6c478" stroke="#6a5020" stroke-width="0.5" stroke-linejoin="round"/>
<text x="113.4" y="431.2" font-family="Liberation Sans, sans-serif" font-size="3.7" font-weight="bold" font-style="normal" fill="#3a2c10" text-anchor="middle" transform="rotate(-12.1 113.4 431.2)">P1</text>
<polygon points="73.1,398.4 87.3,405.8 87.3,421.7 73.1,414.3" fill="#cfa45c" stroke="#a98442" stroke-width="0.5" stroke-linejoin="round"/>
<polygon points="73.1,398.4 85.9,405.1 85.9,413.3 73.1,406.7" fill="#7d8296"/>
<polyline points="73.1,400.1 85.9,406.7" fill="none" stroke="#3f4558" stroke-width="0.6"/>
<polyline points="73.1,401.7 85.9,408.4" fill="none" stroke="#3f4558" stroke-width="0.6"/>
<polyline points="73.1,403.4 85.9,410.0" fill="none" stroke="#3f4558" stroke-width="0.6"/>
<polyline points="73.1,405.0 85.9,411.7" fill="none" stroke="#3f4558" stroke-width="0.6"/>
<polyline points="79.5,410.0 79.5,417.6" fill="none" stroke="#a98442" stroke-width="0.5"/>
<polygon points="87.3,405.8 128.0,397.9 113.8,390.5 73.1,398.4" fill="#e6ca7c" stroke="#a98442" stroke-width="0.5" stroke-linejoin="round"/>
<polygon points="85.0,404.6 98.5,402.0 86.5,395.8 73.1,398.4" fill="#888da0"/>
<polyline points="83.0,403.6 96.5,401.0" fill="none" stroke="#444a5e" stroke-width="0.6"/>
<polyline points="81.1,402.5 94.5,399.9" fill="none" stroke="#444a5e" stroke-width="0.6"/>
<polyline points="79.1,401.5 92.5,398.9" fill="none" stroke="#444a5e" stroke-width="0.6"/>
<polyline points="77.1,400.5 90.5,397.9" fill="none" stroke="#444a5e" stroke-width="0.6"/>
<polyline points="75.1,399.4 88.5,396.8" fill="none" stroke="#444a5e" stroke-width="0.6"/>
<polygon points="98.5,402.0 102.5,401.2 90.6,395.0 86.5,395.8" fill="#b08a42"/>
<polygon points="102.5,401.2 108.6,400.0 96.7,393.8 90.6,395.0" fill="#f1e28c"/>
<polyline points="97.0,398.3 103.1,397.1" fill="none" stroke="#b89a4a" stroke-width="0.5"/>
<polygon points="108.6,400.0 111.1,399.6 99.1,393.3 96.7,393.8" fill="#a8843e"/>
<polygon points="111.1,399.6 125.1,396.8 113.2,390.6 99.1,393.3" fill="#b9bcc6"/>
<polygon points="112.1,398.9 119.5,397.5 108.8,392.0 101.5,393.4" fill="#f2f2f4"/>
<polyline points="121.0,397.6 109.1,391.4" fill="none" stroke="#6a7084" stroke-width="0.6"/>
<polyline points="122.5,397.3 110.5,391.1" fill="none" stroke="#6a7084" stroke-width="0.6"/>
<polyline points="123.9,397.1 112.0,390.9" fill="none" stroke="#6a7084" stroke-width="0.6"/>
<polygon points="87.3,405.8 128.0,397.9 128.0,414.8 87.3,421.7" fill="#d6ac62" stroke="#a98442" stroke-width="0.5" stroke-linejoin="round"/>
<polygon points="90.1,407.2 125.2,400.5 125.2,407.2 90.1,413.6" fill="#b48e4a"/>
<polygon points="87.3,405.8 128.0,397.9 128.0,399.8 87.3,407.5" fill="#ecd88c"/>
<polygon points="87.3,405.8 89.9,405.3 89.9,421.3 87.3,421.7" fill="#e6cc80"/>
<polygon points="125.6,398.4 128.0,397.9 128.0,414.8 125.6,415.2" fill="#e0c276"/>
<polyline points="87.3,405.8 128.0,397.9 128.0,414.8 87.3,421.7 87.3,405.8" fill="none" stroke="#a98442" stroke-width="0.5"/>
<polygon points="91.4,409.8 99.5,408.3 99.5,411.5 91.4,413.0" fill="#f0e090"/>
<polygon points="116.6,403.8 123.9,402.4 123.9,405.4 116.6,406.8" fill="#f0e090"/>
<polygon points="100.7,406.4 115.0,403.7 115.0,408.7 100.7,411.3" fill="#d2a85e"/>
<polygon points="92.2,414.5 99.9,413.1 99.9,417.9 92.2,419.3" fill="#e0ba6e" stroke="#6a5020" stroke-width="0.5" stroke-linejoin="round"/>
<polygon points="117.0,408.0 124.3,406.7 124.3,411.7 117.0,413.0" fill="#e0ba6e" stroke="#6a5020" stroke-width="0.5" stroke-linejoin="round"/>
<text x="107.9" y="409.4" font-family="Liberation Sans, sans-serif" font-size="4.7" font-weight="bold" font-style="italic" fill="#2a2010" text-anchor="middle" transform="rotate(-11.0 107.9 409.4)">Acrel</text>
<text x="96.1" y="417.8" font-family="Liberation Sans, sans-serif" font-size="3.1" font-weight="bold" font-style="normal" fill="#2a2010" text-anchor="middle" transform="rotate(-11.0 96.1 417.8)">S1</text>
<text x="120.7" y="411.5" font-family="Liberation Sans, sans-serif" font-size="3.1" font-weight="bold" font-style="normal" fill="#2a2010" text-anchor="middle" transform="rotate(-11.0 120.7 411.5)">S2</text>
<polygon points="43.9,580.6 60.8,587.7 156.0,568.8 139.1,561.7" fill="#dcb468" stroke="#a98442" stroke-width="0.5" stroke-linejoin="round"/>
<polygon points="61.6,586.3 151.1,568.5 137.9,563.0 48.4,580.7" fill="#c79c52" stroke="#a98442" stroke-width="0.4" stroke-linejoin="round"/>
<polygon points="83.0,582.9 126.8,574.2 112.9,568.4 69.1,577.1" fill="#f3e08c" stroke="#a98442" stroke-width="0.4" stroke-linejoin="round"/>
<polyline points="76.0,580.0 119.8,571.3" fill="none" stroke="#d6bd66" stroke-width="0.5"/>
<polyline points="73.2,578.8 117.0,570.1" fill="none" stroke="#d6bd66" stroke-width="0.5"/>
<polygon points="59.8,568.4 66.9,571.0 66.9,585.9 59.8,583.3" fill="#a2a2a2"/>
<polygon points="66.9,571.0 77.6,569.0 77.6,583.7 66.9,585.9" fill="#828282"/>
<polygon points="59.8,568.4 70.5,566.6 77.6,569.0 66.9,571.0" fill="#bdbdbd"/>
<polygon points="124.2,556.1 130.6,558.7 130.6,573.0 124.2,570.4" fill="#a2a2a2"/>
<polygon points="130.6,558.7 140.1,556.7 140.1,570.8 130.6,573.0" fill="#828282"/>
<polygon points="124.2,556.1 133.7,554.3 140.1,556.7 130.6,558.7" fill="#bdbdbd"/>
<polygon points="43.9,580.6 60.8,587.7 60.8,615.4 43.9,608.3" fill="#cfa45c" stroke="#a98442" stroke-width="0.5" stroke-linejoin="round"/>
<polyline points="52.3,584.2 52.3,611.9" fill="none" stroke="#a98442" stroke-width="0.5"/>
<polygon points="60.8,587.7 156.0,568.8 156.0,595.6 60.8,615.4" fill="#d5ab61" stroke="#a98442" stroke-width="0.5" stroke-linejoin="round"/>
<polyline points="63.7,591.0 153.1,573.1 153.1,593.5 63.7,612.0 63.7,591.0" fill="none" stroke="#a98442" stroke-width="0.5"/>
<polyline points="85.6,586.6 85.6,584.2 119.8,577.3" fill="none" stroke="#7a5c28" stroke-width="0.5"/>
<circle cx="66.5" cy="601.8" r="1.5" fill="#e9cf88" stroke="#7a5c28" stroke-width="0.5"/>
<circle cx="150.3" cy="584.7" r="1.5" fill="#e9cf88" stroke="#7a5c28" stroke-width="0.5"/>
<polygon points="100.8,578.1 115.5,575.2 118.4,576.7 103.7,579.6" fill="#f3e08c" stroke="#a98442" stroke-width="0.4" stroke-linejoin="round"/>
<polygon points="100.8,578.1 103.7,579.6 103.7,592.1 100.8,590.7" fill="#c89e54" stroke="#a98442" stroke-width="0.4" stroke-linejoin="round"/>
<polygon points="103.7,579.6 118.4,576.7 118.4,589.2 103.7,592.1" fill="#e2bb6c" stroke="#a98442" stroke-width="0.4" stroke-linejoin="round"/>
<polygon points="108.1,583.7 116.2,582.1 116.2,587.1 108.1,588.7" fill="#f6ecb0" stroke="#7a5c28" stroke-width="0.4" stroke-linejoin="round"/>
<polygon points="109.9,584.9 114.8,583.9 114.8,585.9 109.9,586.9" fill="#c89e54"/>
<text x="108.4" y="594.6" font-family="Liberation Sans, sans-serif" font-size="4.4" font-weight="bold" font-style="normal" fill="#2a2010" text-anchor="middle" transform="rotate(-11.2 108.4 594.6)">K-100<tspan font-size="60%" dy="-1">=40</tspan></text>
<polygon points="105.5,596.3 111.3,595.1 111.3,601.6 105.5,602.8" fill="#e6c478" stroke="#6a5020" stroke-width="0.5" stroke-linejoin="round"/>
<text x="108.4" y="601.5" font-family="Liberation Sans, sans-serif" font-size="3.7" font-weight="bold" font-style="normal" fill="#3a2c10" text-anchor="middle" transform="rotate(-11.2 108.4 601.5)">P1</text>
<polygon class="ba" points="211.6,136.6 305.4,136.6 305.4,127.9 337.6,144.7 305.4,161.4 305.4,152.9 211.6,152.9"/>
<polygon class="ba" points="570.2,138.9 662.9,138.9 662.9,130.3 694.0,147.6 662.9,165.0 662.9,156.3 570.2,156.3"/>
<polygon class="ba" points="204.8,483.0 292.0,483.0 292.0,474.6 321.6,491.7 292.0,509.3 292.0,500.4 204.8,500.4"/>
<polygon class="ba" points="559.0,481.1 646.2,481.1 646.2,472.6 675.4,489.0 646.2,505.4 646.2,497.0 559.0,497.0"/>
<polygon class="ba" points="231.3,841.8 321.5,841.8 321.5,832.9 352.6,849.9 321.5,866.8 321.5,858.1 231.3,858.1"/>
<line x1="122.9" y1="281.0" x2="113.5" y2="247.8" stroke="#000" stroke-width="1.5"/><polygon fill="#000" points="109.6,233.8 118.0,246.5 109.1,249.0"/>
<line x1="187.0" y1="218.5" x2="217.2" y2="244.7" stroke="#000" stroke-width="1.5"/><polygon fill="#000" points="228.2,254.2 214.2,248.2 220.3,241.2"/>
<line x1="504.4" y1="248.5" x2="504.4" y2="275.7" stroke="#000" stroke-width="1.5"/><polygon fill="#000" points="504.4,290.2 499.8,275.7 509.0,275.7"/>
<line x1="171.5" y1="602.5" x2="171.5" y2="548.3" stroke="#000" stroke-width="1.5"/><polygon fill="#000" points="171.5,533.8 176.1,548.3 166.9,548.3"/>
<line x1="161.0" y1="983.5" x2="152.9" y2="954.0" stroke="#000" stroke-width="1.5"/><polygon fill="#000" points="149.0,940.0 157.3,952.8 148.4,955.2"/>
<line x1="251.5" y1="965.0" x2="222.8" y2="941.2" stroke="#000" stroke-width="1.5"/><polygon fill="#000" points="211.6,932.0 225.7,937.7 219.8,944.8"/>
<line x1="565.9" y1="840.1" x2="596.0" y2="846.7" stroke="#000" stroke-width="1"/><polygon fill="#000" points="603.8,848.4 595.5,848.9 596.5,844.4"/>
</svg>
<div class="t" style="left:89.8px;top:4.57px;font-size:18px;font-weight:bold;">Fig.1</div>
<div class="t" style="left:472.9px;top:4.57px;font-size:18px;font-weight:bold;">Fig.2</div>
<div class="t" style="left:79px;top:363.48px;font-size:18px;font-weight:bold;">Fig.3</div>
<div class="t" style="left:456.2px;top:373.07px;font-size:18px;font-weight:bold;">Fig.4</div>
<div class="t" style="left:111.4px;top:706.97px;font-size:18px;font-weight:bold;">Fig.5</div>
<div class="t" style="left:453.8px;top:703.57px;font-size:18px;font-weight:bold;">Fig.6</div>
<div class="t" style="left:39.6px;top:279.85px;font-size:16px;width:147.5px;text-align:justify;text-align-last:justify;"><span class="c" style="width:18px;height:18px;font-size:15.5px;line-height:16.1px;vertical-align:-3.7px;margin-left:2.4px;margin-right:12.3px;">1</span>Hold the lower</div>
<div class="t" style="left:39.6px;top:301.85px;font-size:16px;width:147.5px;text-align:justify;text-align-last:justify;">section firmly at the</div>
<div class="t" style="left:39.6px;top:323.85px;font-size:16px;letter-spacing:0.18px;">direction of arrow</div>
<div class="t" style="left:207.3px;top:254.85px;font-size:16px;width:166px;text-align:justify;text-align-last:justify;"><span class="c" style="width:18px;height:18px;font-size:15.5px;line-height:16.1px;vertical-align:-3.7px;margin-left:2.7px;margin-right:9.9px;">2</span>Loosen two screws</div>
<div class="t" style="left:207.3px;top:276.85px;font-size:16px;width:166px;text-align:justify;text-align-last:justify;">at the direction of arrow</div>
<div class="t" style="left:207.3px;top:298.85px;font-size:16px;letter-spacing:0.18px;">and remove them (fig. 2)</div>
<div class="t" style="left:447.6px;top:289.85px;font-size:16px;width:207.8px;text-align:justify;text-align-last:justify;"><span class="c" style="width:18px;height:18px;font-size:15.5px;line-height:16.1px;vertical-align:-3.7px;margin-left:2.4px;margin-right:7.2px;">3</span>Separate the lower section</div>
<div class="t" style="left:447.6px;top:311.85px;font-size:16px;letter-spacing:0.18px;">at the direction of arrow</div>
<div class="t" style="left:84.8px;top:614.85px;font-size:16px;width:245.2px;text-align:justify;text-align-last:justify;"><span class="c" style="width:19px;height:18px;font-size:15.5px;line-height:16.1px;vertical-align:-3.7px;margin-left:1.9px;margin-right:13.6px;clip-path:inset(2.2px 0 0 0);">4</span>Mount the copper bar and</div>
<div class="t" style="left:84.8px;top:636.85px;font-size:16px;width:245.2px;text-align:justify;text-align-last:justify;">assemble the lower section at the</div>
<div class="t" style="left:84.8px;top:658.85px;font-size:16px;letter-spacing:0.18px;">direction of arrow (fig. 4)</div>
<div class="t" style="left:52.4px;top:985.85px;font-size:16px;width:154.6px;text-align:justify;text-align-last:justify;"><span class="c" style="width:15.5px;height:15.5px;font-size:12.5px;line-height:13.1px;font-family:'Liberation Sans',sans-serif;border-color:#333;vertical-align:-2px;margin-left:0px;margin-right:2.8px;">5</span>Hold it firmly at the</div>
<div class="t" style="left:52.4px;top:1007.85px;font-size:16px;letter-spacing:0.18px;">direction of arrow</div>
<div class="t" style="left:220.4px;top:974.85px;font-size:16px;width:237.9px;text-align:justify;text-align-last:justify;"><span class="c" style="width:15.5px;height:15.5px;font-size:12.5px;line-height:13.1px;font-family:'Liberation Sans',sans-serif;border-color:#333;vertical-align:-2px;margin-left:0px;margin-right:2.8px;">6</span>Hold the lower section firmly at</div>
<div class="t" style="left:220.8px;top:996.85px;font-size:16px;width:237.5px;text-align:justify;text-align-last:justify;">the direction arrow, insert two</div>
<div class="t" style="left:220.8px;top:1018.85px;font-size:16px;letter-spacing:0.18px;">screws and tighten nuts (fig. 6)</div>
<div class="t" style="left:586.2px;top:862.85px;font-size:16px;width:131px;text-align:justify;text-align-last:justify;"><span class="c" style="width:16px;height:15.5px;font-size:12.5px;line-height:13.1px;font-family:'Liberation Sans',sans-serif;border-color:#333;vertical-align:-2px;margin-left:0px;margin-right:7.2px;">7</span>Fix the copper</div>
<div class="t" style="left:586.7px;top:884.85px;font-size:16px;width:130.5px;text-align:justify;text-align-last:justify;">bar with M5 screws</div>
<div class="t" style="left:586.7px;top:906.85px;font-size:16px;width:130.5px;text-align:justify;text-align-last:justify;">and pressure plates</div>
<div class="t" style="left:586.7px;top:928.85px;font-size:16px;letter-spacing:0.18px;">as shown in fig. 6</div>
</body></html>
